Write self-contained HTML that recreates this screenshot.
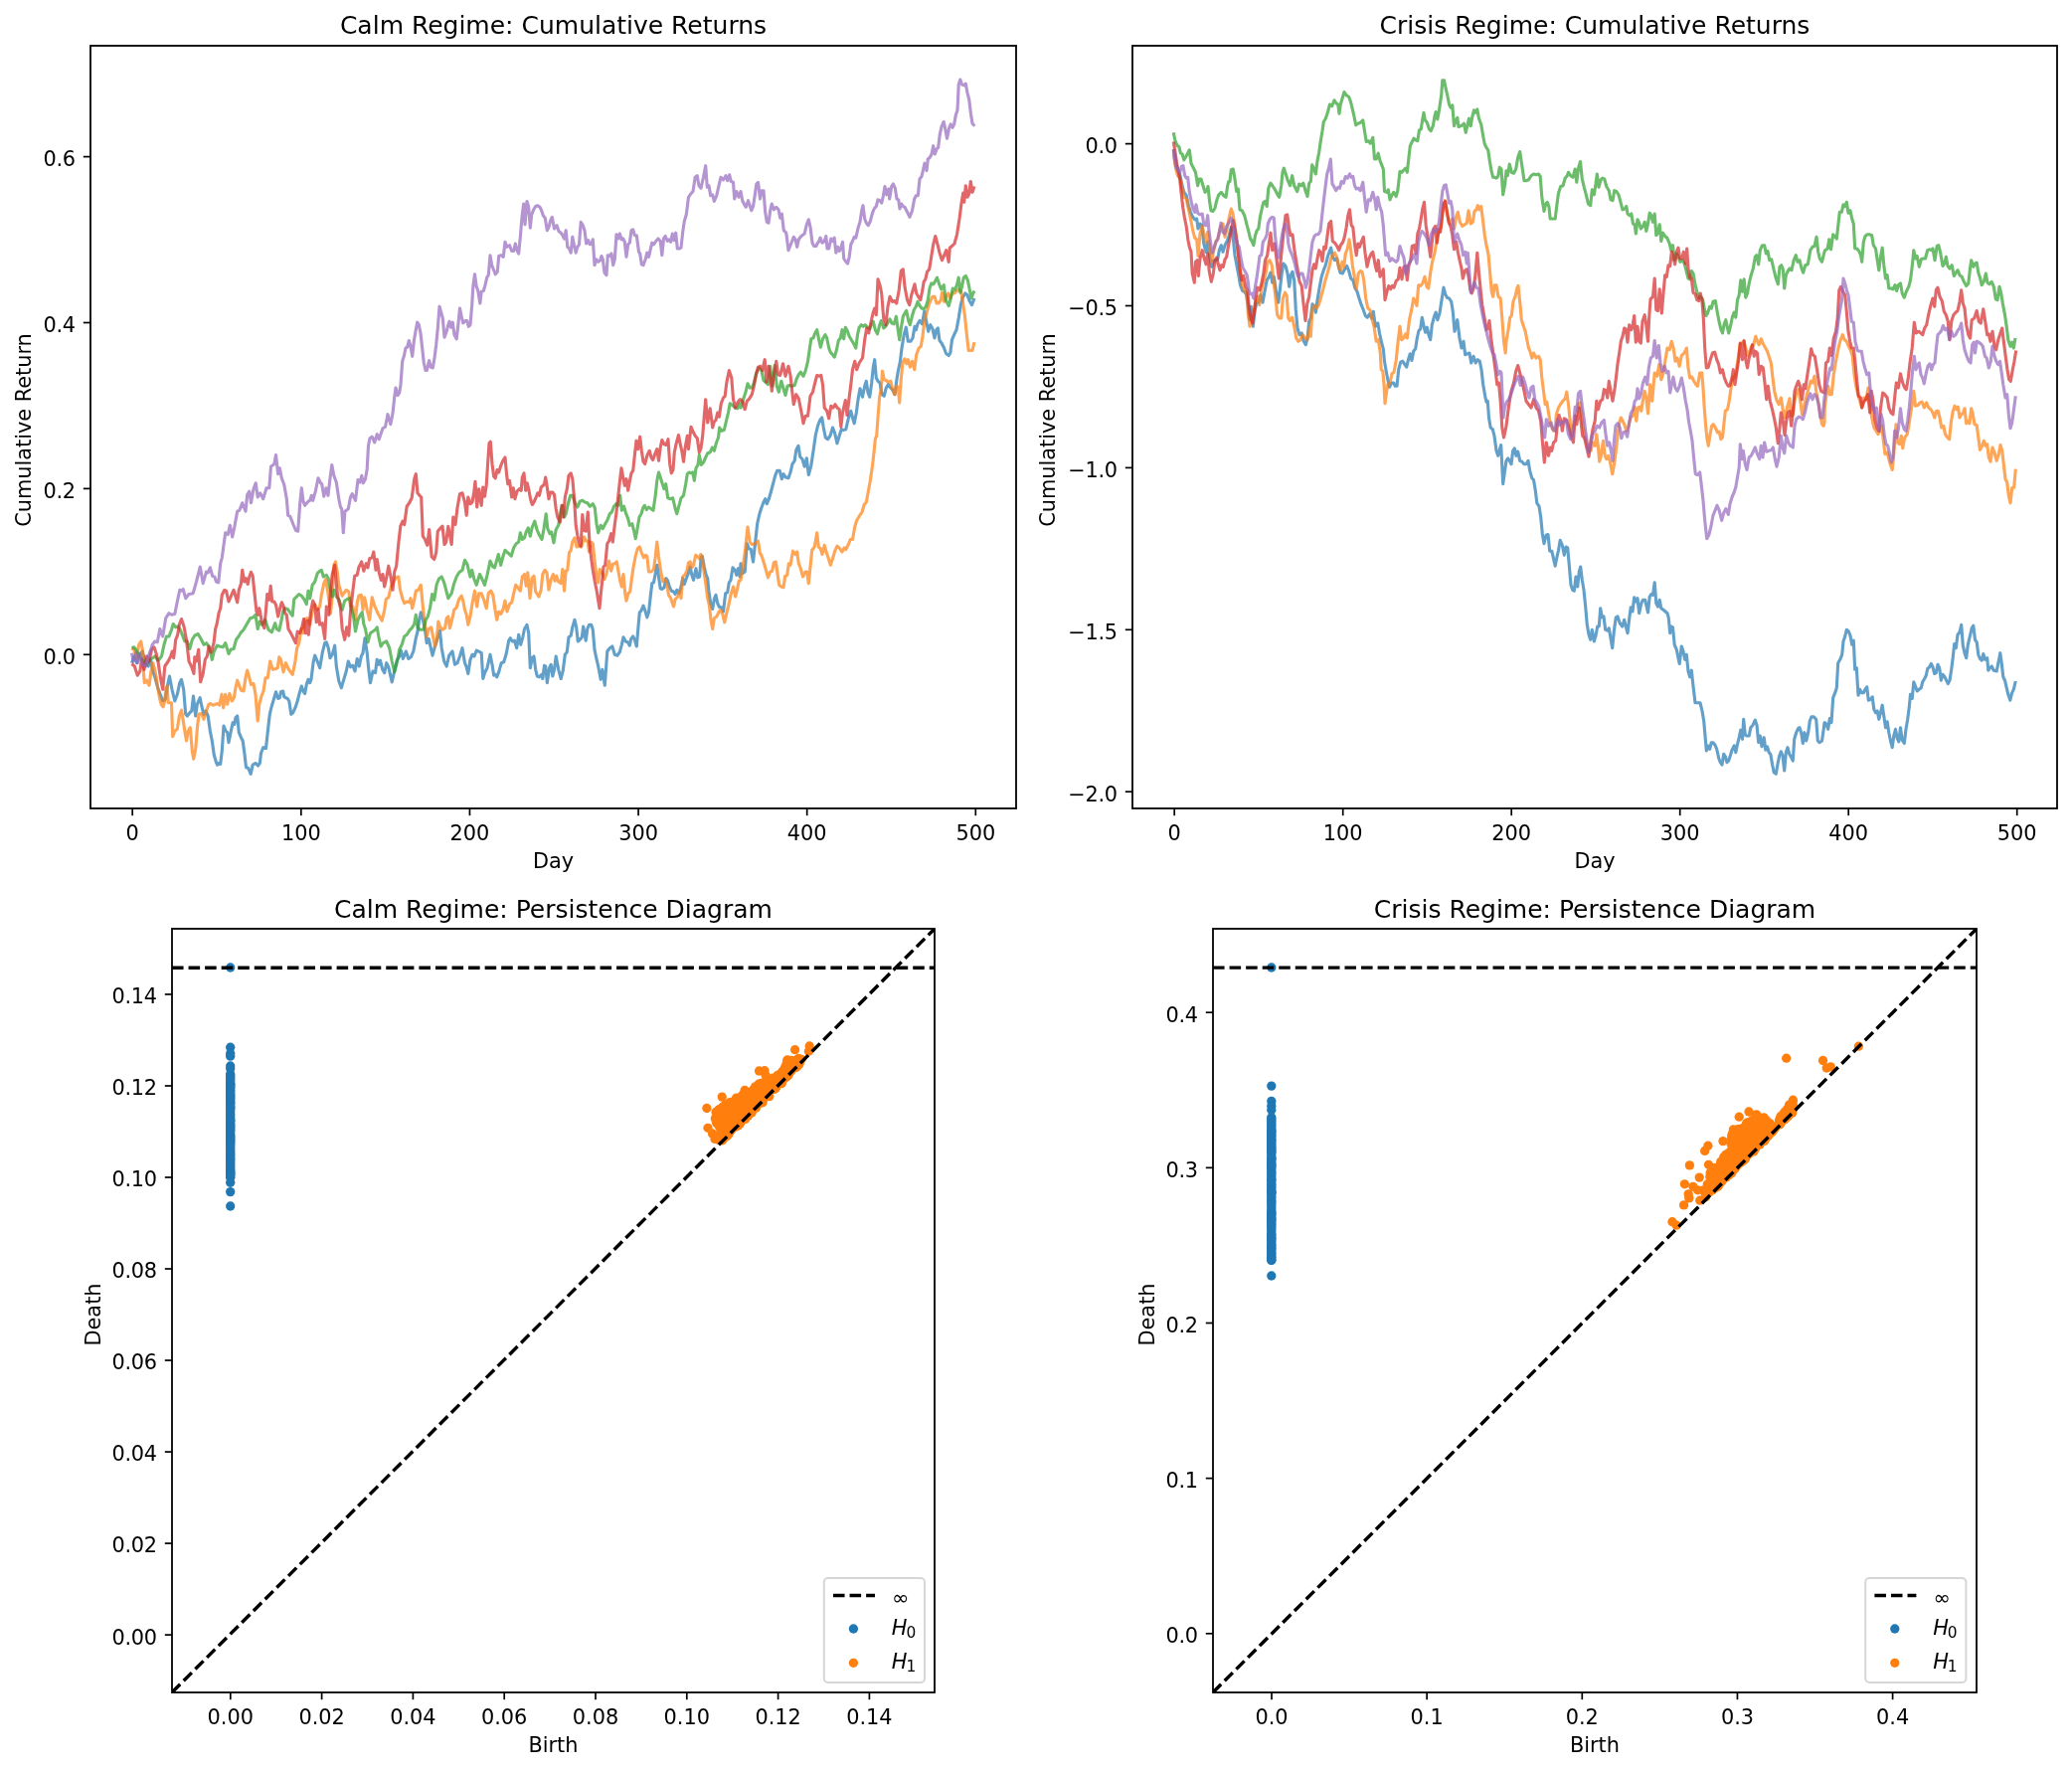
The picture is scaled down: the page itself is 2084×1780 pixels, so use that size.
<!DOCTYPE html>
<html><head><meta charset="utf-8"><title>Regime persistence diagrams</title>
<style>html,body{margin:0;padding:0;background:#fff}svg{display:block;will-change:transform}</style>
</head><body>
<svg width="2084" height="1780" viewBox="0 0 2084 1780" font-family='"DejaVu Sans", "Liberation Sans", sans-serif' fill="#000">
<rect width="2084" height="1780" fill="#fff"/>
<defs>
<clipPath id="c1"><rect x="91" y="46" width="931" height="767"/></clipPath>
<clipPath id="c2"><rect x="1139" y="46" width="930" height="767"/></clipPath>
<clipPath id="c3"><rect x="173" y="934" width="767" height="768"/></clipPath>
<clipPath id="c4"><rect x="1220" y="934" width="768" height="768"/></clipPath>
</defs>
<path d="M132.5 666.7 L135.0 660.0 L137.5 666.7 L140.0 658.3 L143.3 655.0 L146.7 668.3 L149.2 670.0 L151.7 664.2 L154.2 676.7 L155.8 680.8 L158.7 691.7 L161.2 698.3 L163.7 705.0 L166.3 703.3 L168.7 688.3 L170.5 680.0 L173.0 693.3 L175.8 705.0 L178.3 698.3 L180.8 686.7 L182.5 683.3 L184.7 693.3 L186.7 718.3 L188.3 720.0 L190.8 716.7 L192.8 715.0 L194.5 700.0 L196.7 720.0 L198.3 708.3 L201.2 701.7 L202.8 710.0 L205.0 718.3 L207.0 715.0 L209.2 720.0 L211.3 735.0 L213.3 745.0 L215.3 759.2 L217.5 766.7 L218.7 769.2 L220.0 767.5 L221.7 768.3 L223.3 755.0 L225.0 730.0 L227.0 735.0 L228.7 736.7 L230.0 746.7 L232.0 736.7 L234.2 726.7 L235.8 728.3 L237.0 721.7 L238.7 720.0 L240.3 736.7 L242.5 741.7 L244.2 745.0 L246.2 760.0 L247.5 771.7 L249.7 772.5 L252.2 778.3 L254.2 769.2 L257.0 767.5 L259.7 770.0 L261.3 767.5 L262.5 757.5 L264.7 751.7 L267.5 752.5 L269.2 736.7 L271.3 718.3 L273.3 710.0 L275.8 701.7 L277.5 695.8 L279.7 702.5 L281.3 701.7 L282.5 695.8 L284.7 695.0 L285.8 700.8 L289.2 702.5 L290.8 705.0 L292.8 718.3 L294.7 716.7 L297.0 711.7 L299.2 705.0 L301.3 696.7 L303.3 690.0 L305.3 695.8 L306.7 697.5 L308.3 688.3 L310.0 683.3 L311.7 686.7 L313.0 683.3 L315.0 666.7 L316.7 659.2 L319.2 665.0 L321.7 671.7 L324.2 656.7 L326.7 646.7 L328.3 645.8 L330.3 651.7 L332.0 661.7 L334.2 658.3 L336.7 649.2 L338.3 670.0 L340.8 685.0 L343.3 691.7 L345.8 683.3 L348.3 675.0 L350.3 665.0 L352.5 670.8 L354.7 669.2 L357.0 675.0 L359.2 662.5 L361.3 670.0 L363.3 660.0 L365.0 656.7 L367.0 641.7 L369.2 656.7 L370.8 673.3 L372.5 686.7 L375.0 675.0 L377.5 676.7 L379.2 663.3 L380.8 668.3 L382.5 664.2 L384.7 673.3 L386.7 676.7 L388.7 666.7 L390.8 670.8 L394.2 685.8 L396.7 675.0 L399.2 664.2 L401.7 660.0 L403.3 654.2 L405.3 662.5 L408.3 655.0 L410.8 662.5 L413.3 660.8 L415.8 655.0 L418.3 641.7 L420.0 635.0 L421.7 623.3 L423.3 615.8 L425.0 621.7 L427.5 633.3 L429.2 646.7 L431.3 642.5 L433.3 651.7 L435.0 659.2 L437.5 650.0 L440.0 641.7 L442.5 634.2 L444.2 651.7 L446.7 665.0 L449.2 670.0 L451.7 659.2 L455.0 655.0 L457.5 668.3 L460.0 666.7 L462.5 660.0 L465.0 651.7 L467.5 666.7 L469.2 670.8 L470.8 677.5 L473.0 663.3 L475.0 658.3 L477.0 660.0 L479.2 654.2 L481.3 655.0 L484.2 656.7 L485.8 682.5 L487.5 676.7 L490.0 671.7 L493.0 658.3 L495.0 668.3 L496.7 679.2 L498.3 678.3 L499.7 680.8 L501.7 675.8 L504.2 666.7 L506.7 665.8 L509.2 657.5 L511.7 644.2 L513.3 641.7 L515.3 645.0 L517.5 644.2 L519.7 651.7 L521.7 638.3 L523.7 648.3 L525.8 640.8 L527.5 632.5 L530.0 628.3 L531.7 636.7 L533.3 671.7 L535.3 661.7 L537.0 660.0 L538.7 673.3 L540.3 680.0 L542.5 680.8 L544.7 678.3 L545.8 682.5 L547.5 669.2 L548.7 670.0 L550.3 686.7 L552.5 671.7 L554.2 668.3 L555.8 680.0 L557.5 673.3 L559.2 660.0 L561.7 673.3 L564.2 682.5 L566.3 674.2 L568.3 658.3 L570.3 655.8 L572.0 640.8 L574.2 639.2 L575.8 630.8 L578.0 623.3 L579.7 630.8 L581.3 645.0 L583.3 643.3 L585.3 640.8 L586.7 630.0 L589.2 644.2 L590.8 632.5 L592.5 628.3 L594.7 628.3 L596.3 633.3 L598.0 653.3 L599.7 661.7 L601.7 670.0 L604.2 683.3 L605.8 673.3 L608.3 689.2 L610.8 655.0 L613.3 651.7 L615.8 650.0 L618.3 658.3 L620.8 659.2 L623.3 655.8 L625.3 648.3 L627.0 640.8 L629.2 645.0 L631.3 645.8 L633.3 649.2 L634.7 642.5 L636.7 640.0 L638.3 643.3 L640.3 650.0 L641.7 633.3 L643.3 615.8 L645.0 614.2 L647.0 609.2 L648.7 613.3 L650.8 620.8 L652.5 615.8 L654.2 600.0 L655.8 586.7 L657.5 585.8 L659.2 576.7 L660.8 568.3 L662.5 580.0 L664.2 591.7 L665.8 592.5 L668.0 590.8 L670.0 581.7 L671.7 584.2 L673.3 590.0 L675.3 594.2 L677.5 595.0 L679.2 597.5 L680.8 593.3 L683.0 596.7 L685.0 590.0 L686.7 581.7 L688.3 587.5 L690.0 582.5 L692.0 577.5 L694.2 570.0 L695.8 578.3 L697.5 583.3 L700.0 571.7 L701.7 580.8 L703.7 580.0 L705.0 560.8 L706.3 559.2 L708.3 570.0 L710.0 577.5 L711.7 581.7 L713.0 595.0 L714.7 606.7 L716.7 612.5 L718.3 602.5 L720.0 598.3 L721.7 606.7 L723.7 610.8 L725.8 610.8 L727.5 615.0 L729.7 596.7 L731.7 595.8 L733.3 585.8 L735.0 583.3 L737.0 570.8 L739.2 573.3 L740.8 578.3 L742.5 571.7 L744.2 580.0 L745.0 566.7 L746.7 576.7 L749.2 575.0 L751.3 546.7 L753.3 551.7 L755.3 552.5 L757.5 565.0 L759.7 545.0 L761.7 526.7 L763.7 517.5 L765.8 510.8 L768.0 505.0 L769.7 501.7 L771.3 506.7 L773.3 501.7 L775.3 495.0 L777.5 486.7 L779.7 478.3 L781.7 473.3 L784.2 473.3 L786.3 481.7 L788.0 476.7 L790.3 480.0 L793.0 480.8 L795.0 475.0 L797.0 466.7 L799.2 463.3 L800.8 452.5 L803.0 448.3 L804.7 459.2 L807.0 461.7 L809.2 469.2 L811.3 460.8 L813.3 477.5 L815.8 468.3 L818.3 451.7 L820.3 437.5 L822.5 428.3 L824.7 422.5 L826.7 420.0 L828.3 430.0 L830.3 440.0 L832.5 441.7 L835.0 438.3 L837.5 430.0 L839.7 435.8 L842.0 445.8 L844.2 438.3 L846.3 431.7 L848.3 432.5 L850.8 431.7 L853.3 420.8 L855.8 413.3 L857.5 420.0 L859.2 425.8 L861.3 415.0 L863.3 400.0 L865.0 390.8 L867.5 399.2 L869.7 388.3 L871.3 383.3 L873.0 395.0 L874.7 399.2 L876.7 385.0 L878.3 369.2 L879.7 361.7 L881.3 380.0 L883.0 383.3 L885.0 385.0 L887.0 396.7 L889.2 398.3 L891.3 390.0 L893.3 386.7 L895.8 390.0 L898.0 392.5 L900.0 396.7 L901.7 383.3 L903.3 373.3 L905.3 364.2 L907.0 350.0 L909.2 336.7 L911.3 329.2 L913.3 343.3 L915.8 343.3 L918.0 340.0 L920.0 328.3 L921.3 331.7 L923.0 325.8 L925.0 322.5 L927.5 325.8 L929.7 313.3 L931.7 323.3 L933.7 333.3 L935.8 326.7 L938.0 330.8 L940.0 340.0 L941.7 331.7 L943.3 330.0 L945.0 342.5 L947.0 345.0 L949.2 349.2 L951.7 355.8 L954.2 357.5 L955.8 355.0 L957.5 341.7 L960.0 335.8 L962.0 331.7 L964.2 320.0 L966.3 306.7 L968.3 299.2 L970.8 295.0 L973.0 296.7 L975.0 302.5 L977.5 306.7 L980.0 300.0" fill="none" stroke="#1f77b4" stroke-opacity="0.7" stroke-width="3.125" stroke-linejoin="round" stroke-linecap="butt" clip-path="url(#c1)"/>
<path d="M132.5 651.7 L134.7 653.3 L137.5 661.7 L139.7 648.3 L141.7 645.0 L143.3 653.3 L144.2 673.3 L145.3 686.7 L147.5 684.2 L150.0 689.2 L152.0 675.0 L153.7 666.7 L155.3 671.7 L157.0 680.0 L158.7 691.7 L160.8 703.3 L162.5 709.2 L164.2 710.8 L165.3 706.7 L167.0 691.7 L168.0 690.0 L169.2 706.7 L172.5 706.7 L173.7 740.8 L175.8 735.0 L178.3 733.3 L180.3 720.0 L182.5 714.2 L184.2 724.2 L185.8 735.0 L187.5 745.0 L189.2 735.0 L191.3 731.7 L193.3 755.0 L194.7 763.3 L196.7 753.3 L198.3 733.3 L200.0 718.3 L202.5 717.5 L205.0 723.3 L207.5 715.0 L210.0 708.3 L211.7 707.5 L214.2 709.2 L216.7 708.3 L219.2 707.5 L220.8 709.2 L223.0 698.3 L224.7 711.7 L226.7 698.3 L228.7 708.3 L230.8 697.5 L233.3 705.0 L235.3 701.7 L237.0 691.7 L238.7 684.2 L240.8 690.0 L242.5 694.2 L245.0 695.0 L247.0 681.7 L248.7 674.2 L250.8 681.7 L252.5 688.3 L255.0 687.5 L257.0 698.3 L259.2 725.0 L260.8 708.3 L263.0 700.0 L265.0 695.0 L267.0 681.7 L269.2 681.7 L271.7 665.0 L274.2 673.3 L277.5 672.5 L279.2 671.7 L280.8 660.8 L282.5 663.3 L285.0 675.8 L287.5 666.7 L290.0 672.5 L294.2 678.3 L296.7 666.7 L298.7 651.7 L300.8 646.7 L302.8 632.5 L305.0 636.7 L306.7 622.5 L309.2 621.7 L311.7 628.3 L314.2 615.0 L316.7 608.3 L319.2 613.3 L321.7 610.0 L323.3 598.3 L325.8 586.7 L327.5 582.5 L330.0 596.7 L332.5 616.7 L334.2 600.0 L335.8 568.3 L337.5 565.0 L339.2 575.0 L340.8 588.3 L344.2 599.2 L345.8 596.7 L348.3 593.3 L350.8 595.0 L352.5 609.2 L355.0 610.0 L357.5 623.3 L359.2 606.7 L360.8 599.2 L363.3 598.3 L365.0 613.3 L366.7 600.8 L369.2 613.3 L371.7 623.3 L374.2 600.8 L376.7 609.2 L380.0 616.7 L384.2 624.2 L386.7 613.3 L388.3 602.5 L390.8 600.8 L393.3 590.0 L395.8 585.0 L398.3 580.8 L400.8 580.0 L402.5 593.3 L405.0 602.5 L406.7 606.7 L409.2 605.0 L411.7 605.8 L413.0 601.7 L414.7 611.7 L416.7 603.3 L418.3 594.2 L420.8 593.3 L423.3 588.3 L425.0 606.7 L426.7 623.3 L429.2 640.0 L431.3 632.5 L433.7 630.8 L435.8 641.7 L437.5 650.0 L439.2 645.0 L440.8 625.0 L442.5 630.0 L445.0 633.3 L447.5 631.7 L449.2 621.7 L450.8 620.0 L452.5 631.7 L455.0 621.7 L456.7 613.3 L459.2 610.8 L461.7 602.5 L464.2 599.2 L465.8 604.2 L467.5 613.3 L469.2 618.3 L470.8 628.3 L473.0 620.0 L475.0 606.7 L477.5 594.2 L479.7 610.0 L481.7 596.7 L484.2 596.7 L486.7 603.3 L489.2 611.7 L491.3 596.7 L493.7 594.2 L495.8 598.3 L498.0 613.3 L499.7 623.3 L501.7 615.0 L503.7 617.5 L505.8 613.3 L508.0 604.2 L510.0 615.0 L512.5 607.5 L514.7 605.8 L516.7 596.7 L518.7 588.3 L520.8 590.8 L523.3 594.2 L525.3 580.0 L527.5 577.5 L529.2 589.2 L530.8 575.8 L533.0 601.7 L535.0 581.7 L537.0 579.2 L538.7 595.0 L540.3 597.5 L542.0 600.0 L544.2 593.3 L545.8 577.5 L548.0 573.3 L550.0 575.8 L552.0 593.3 L554.2 582.5 L556.3 577.5 L558.0 584.2 L559.7 579.2 L561.7 585.0 L564.2 586.7 L565.8 572.5 L567.5 594.2 L569.2 574.2 L570.8 573.3 L572.5 555.8 L574.2 553.3 L575.8 545.0 L578.0 540.8 L580.0 550.0 L582.5 549.2 L584.7 550.0 L587.5 540.0 L589.7 544.2 L591.3 544.2 L592.5 555.0 L594.2 545.0 L596.3 546.7 L598.0 563.3 L599.7 576.7 L601.7 585.8 L603.3 572.5 L605.8 576.7 L608.0 582.5 L610.0 576.7 L612.5 564.2 L614.7 574.2 L616.3 567.5 L618.3 566.7 L620.3 565.0 L621.7 573.3 L623.7 584.2 L625.3 590.0 L627.0 577.5 L628.7 596.7 L630.0 604.2 L632.0 596.7 L633.7 595.0 L635.3 582.5 L637.0 570.8 L639.2 559.2 L641.3 551.7 L643.3 550.0 L645.3 555.8 L647.5 560.8 L649.2 558.3 L650.8 559.2 L652.5 575.0 L655.0 575.0 L657.5 572.5 L659.2 560.0 L660.8 545.0 L662.5 560.0 L664.7 575.0 L666.7 585.0 L668.3 582.5 L670.3 585.0 L672.5 598.3 L674.7 601.7 L677.5 610.0 L679.2 602.5 L681.7 600.0 L683.7 595.0 L685.0 601.7 L686.7 580.0 L689.2 577.5 L690.8 574.2 L692.5 565.8 L694.2 565.0 L695.8 570.8 L697.5 568.3 L699.7 558.3 L701.7 560.0 L703.3 561.7 L704.7 557.5 L706.7 563.3 L708.3 576.7 L710.0 588.3 L711.7 601.7 L713.3 608.3 L715.0 623.3 L716.7 632.5 L718.3 621.7 L720.8 620.0 L723.3 615.0 L725.0 613.3 L727.0 618.3 L728.7 625.8 L730.8 616.7 L732.5 610.0 L735.0 598.3 L737.5 590.0 L739.7 600.0 L741.7 591.7 L743.3 584.2 L745.0 583.3 L747.5 568.3 L749.7 551.7 L752.0 530.0 L754.2 545.0 L756.3 547.5 L759.2 546.7 L762.5 544.2 L764.2 555.8 L765.8 558.3 L768.0 565.0 L770.0 571.7 L772.5 580.8 L774.7 575.0 L776.7 574.2 L778.3 565.8 L780.3 565.0 L782.0 576.7 L783.7 588.3 L785.8 590.0 L788.0 590.8 L789.7 579.2 L791.7 578.3 L793.3 566.7 L795.0 568.3 L797.5 554.2 L800.0 557.5 L801.7 555.0 L803.3 566.7 L805.3 571.7 L807.5 580.0 L810.0 575.0 L811.7 575.0 L813.3 586.7 L815.0 570.0 L816.7 553.3 L819.2 550.0 L821.7 535.8 L823.3 550.0 L825.3 551.7 L827.0 557.5 L829.2 548.3 L830.8 554.2 L833.0 560.8 L835.3 568.3 L837.5 561.7 L839.7 554.2 L842.0 549.2 L844.7 551.7 L847.0 555.0 L849.2 550.8 L850.8 552.5 L853.3 547.5 L855.3 542.5 L857.5 542.5 L859.7 530.0 L861.7 523.3 L864.2 519.2 L867.0 515.0 L869.2 507.5 L871.3 505.0 L873.3 494.2 L875.3 483.3 L877.5 468.3 L879.2 453.3 L880.3 441.7 L881.7 438.3 L883.0 420.0 L884.7 398.3 L886.3 391.7 L887.5 373.3 L889.2 381.7 L891.3 382.5 L893.3 384.2 L895.8 383.3 L897.5 390.8 L899.7 396.7 L901.7 388.3 L903.3 389.2 L904.7 405.0 L906.3 380.8 L908.0 364.2 L910.0 360.8 L911.7 365.8 L913.3 361.7 L915.3 369.2 L917.5 363.3 L919.7 371.7 L921.7 356.7 L924.2 350.0 L926.3 348.3 L928.0 338.3 L929.7 323.3 L931.7 315.8 L933.7 308.3 L935.8 302.5 L938.0 298.3 L940.0 298.3 L942.0 305.0 L944.2 305.0 L946.3 301.7 L947.5 294.2 L949.7 303.3 L951.7 298.3 L953.7 295.0 L955.8 300.0 L958.0 294.2 L960.0 295.0 L962.5 292.5 L964.7 290.8 L966.7 293.3 L968.3 303.3 L970.3 316.7 L972.0 333.3 L974.2 352.5 L976.3 352.5 L978.0 352.5 L980.0 344.2" fill="none" stroke="#ff7f0e" stroke-opacity="0.7" stroke-width="3.125" stroke-linejoin="round" stroke-linecap="butt" clip-path="url(#c1)"/>
<path d="M132.5 651.7 L135.0 650.8 L136.7 653.3 L139.2 658.3 L141.7 661.7 L145.0 666.7 L147.5 668.3 L150.8 663.3 L153.3 661.7 L155.8 660.0 L159.2 664.2 L162.5 660.0 L165.0 648.3 L167.5 640.0 L170.0 640.0 L172.5 633.3 L174.2 627.5 L176.7 630.8 L179.2 630.0 L181.3 633.3 L183.3 638.3 L185.8 645.0 L188.3 645.0 L190.8 652.5 L193.3 643.3 L195.8 639.2 L199.2 637.5 L201.7 641.7 L205.0 648.3 L207.5 646.7 L210.0 650.0 L211.7 656.7 L213.3 663.3 L215.3 655.0 L218.3 649.2 L220.8 650.0 L224.2 650.8 L226.7 646.7 L230.0 657.5 L232.0 653.3 L235.0 652.5 L237.5 643.3 L240.0 640.0 L242.5 635.8 L245.0 633.3 L248.3 627.5 L251.7 621.7 L255.0 620.8 L257.0 618.3 L259.2 632.5 L261.3 625.0 L263.7 628.3 L266.7 623.3 L270.0 633.3 L273.3 635.8 L276.7 626.7 L278.3 632.5 L280.8 634.2 L283.0 624.2 L284.7 615.0 L286.7 611.7 L289.2 612.5 L291.7 615.8 L294.2 619.2 L295.8 602.5 L297.5 600.8 L300.8 597.5 L303.3 599.2 L305.8 602.5 L308.3 607.5 L310.0 594.2 L311.7 601.7 L314.2 588.3 L316.7 585.0 L319.2 576.7 L321.7 574.2 L323.3 573.3 L325.3 580.0 L328.3 578.3 L330.3 581.7 L331.7 590.0 L334.2 600.0 L336.2 593.3 L338.3 600.0 L340.8 602.5 L344.2 613.3 L346.7 604.2 L349.2 602.5 L351.7 601.7 L353.3 611.7 L355.3 618.3 L357.5 635.0 L360.0 623.3 L362.5 618.3 L364.2 615.8 L365.8 627.5 L367.5 632.5 L370.0 645.8 L372.5 636.7 L375.0 635.0 L377.5 633.3 L379.2 630.8 L380.8 640.0 L383.0 650.0 L385.3 646.7 L388.7 645.0 L391.7 651.7 L394.2 665.0 L396.7 675.8 L399.2 666.7 L401.7 653.3 L404.2 648.3 L406.7 640.0 L409.2 638.3 L411.7 634.2 L414.2 631.7 L416.7 627.5 L418.3 618.3 L420.0 630.8 L422.5 633.3 L425.8 633.3 L428.3 623.3 L430.3 620.0 L432.5 611.7 L434.7 597.5 L436.7 603.3 L439.2 587.5 L441.7 581.7 L444.2 580.0 L446.7 585.8 L450.8 601.7 L454.2 596.7 L456.7 586.7 L459.2 580.0 L461.7 575.8 L465.0 573.3 L467.5 563.3 L470.0 567.5 L471.7 575.0 L473.0 580.0 L474.7 573.3 L476.7 581.7 L479.2 588.3 L482.5 577.5 L485.0 582.5 L487.5 588.3 L490.0 578.3 L493.0 564.2 L495.8 570.0 L497.5 570.8 L499.7 563.3 L501.3 557.5 L503.7 568.3 L505.8 560.0 L508.0 553.3 L510.8 555.8 L514.2 559.2 L516.7 550.8 L519.2 546.7 L521.7 545.0 L523.3 535.8 L525.3 542.5 L527.5 540.8 L529.2 535.0 L531.3 530.8 L533.3 539.2 L535.3 530.0 L537.8 524.2 L540.0 532.5 L542.5 538.3 L545.0 542.5 L547.0 531.7 L549.2 516.7 L550.8 531.7 L553.0 536.7 L554.7 535.0 L557.0 545.8 L559.2 532.5 L561.7 528.3 L564.2 513.3 L565.8 508.3 L567.5 520.0 L569.2 516.7 L571.3 506.7 L573.7 498.3 L575.8 498.3 L578.3 505.8 L580.8 510.0 L583.3 504.2 L585.8 503.3 L588.3 505.0 L590.8 505.8 L593.3 509.2 L596.3 506.7 L598.3 510.8 L600.0 526.7 L601.7 535.8 L604.2 528.3 L606.3 531.7 L608.3 527.5 L610.8 523.3 L613.3 516.7 L615.3 515.0 L617.5 509.2 L619.7 506.7 L621.7 508.3 L623.7 498.3 L625.3 513.3 L627.5 509.2 L629.7 516.7 L631.7 521.7 L633.3 528.3 L635.8 526.7 L637.5 533.3 L639.2 541.7 L640.8 533.3 L643.0 520.0 L645.0 516.7 L646.7 510.8 L648.3 508.3 L650.3 512.5 L652.5 510.0 L655.0 511.7 L657.0 513.3 L659.2 498.3 L660.8 483.3 L662.5 475.0 L664.2 480.0 L666.3 486.7 L668.0 491.7 L669.7 486.7 L671.7 500.8 L674.2 501.7 L676.7 500.8 L679.2 511.7 L680.8 516.7 L683.0 508.3 L685.0 500.8 L687.5 498.3 L689.7 486.7 L691.3 476.7 L693.0 475.0 L695.0 475.8 L696.7 475.0 L698.3 483.3 L700.0 470.8 L702.0 467.5 L703.3 457.5 L705.3 467.5 L707.5 465.0 L709.7 460.0 L711.7 455.8 L714.2 455.0 L716.3 450.0 L718.3 453.3 L720.3 445.8 L722.5 440.0 L723.7 430.0 L725.8 433.3 L728.3 432.5 L730.3 424.2 L732.5 415.0 L734.2 405.8 L736.7 407.5 L739.2 410.0 L741.7 410.8 L744.2 405.8 L745.0 410.0 L747.5 401.7 L750.0 394.2 L752.0 385.8 L754.2 390.0 L756.3 390.0 L758.3 385.0 L760.8 375.0 L763.3 370.0 L765.8 372.5 L768.0 382.5 L770.0 384.2 L772.5 386.7 L774.7 368.3 L776.7 388.3 L779.2 367.5 L781.3 388.3 L783.3 394.2 L785.8 383.3 L788.0 390.8 L790.0 397.5 L792.0 388.3 L794.2 387.5 L796.7 388.3 L799.2 387.5 L801.3 380.8 L803.3 376.7 L805.3 374.2 L808.0 378.3 L810.3 372.5 L812.5 363.3 L814.2 351.7 L815.8 340.8 L818.0 340.0 L819.7 335.0 L821.7 331.7 L823.7 341.7 L825.3 349.2 L827.5 340.8 L830.0 336.7 L831.7 340.0 L833.7 350.0 L835.3 354.2 L837.5 356.7 L839.2 359.2 L841.3 352.5 L843.3 342.5 L845.3 340.0 L847.0 331.7 L848.7 340.8 L850.3 329.2 L852.5 333.3 L854.2 338.3 L856.3 341.7 L858.7 345.8 L860.8 350.0 L862.5 336.7 L864.2 329.2 L866.3 326.7 L868.3 328.3 L870.3 326.7 L872.5 329.2 L874.7 330.8 L876.7 325.8 L878.3 323.3 L880.3 331.7 L882.5 335.8 L884.7 326.7 L886.3 322.5 L888.7 330.0 L890.8 328.3 L893.0 324.2 L895.0 320.8 L897.0 325.0 L899.2 325.8 L901.3 318.3 L903.0 330.0 L904.7 341.7 L906.3 330.0 L908.3 318.3 L910.0 315.0 L911.7 312.5 L913.7 322.5 L915.3 326.7 L917.5 317.5 L919.2 311.7 L921.3 308.3 L923.0 303.3 L925.0 307.5 L927.0 310.0 L929.2 310.8 L931.3 308.3 L933.3 301.7 L935.0 290.0 L936.7 285.0 L938.7 285.8 L940.3 283.3 L942.5 279.2 L944.7 285.8 L946.7 290.8 L949.2 286.7 L951.3 301.7 L954.2 307.5 L956.3 300.0 L958.3 290.0 L960.3 291.7 L962.5 286.7 L964.2 279.2 L965.8 294.2 L967.5 288.3 L969.2 279.2 L971.3 277.5 L973.3 281.7 L975.0 290.0 L977.0 300.0 L978.7 295.0 L980.0 292.5" fill="none" stroke="#2ca02c" stroke-opacity="0.7" stroke-width="3.125" stroke-linejoin="round" stroke-linecap="butt" clip-path="url(#c1)"/>
<path d="M132.5 667.5 L135.3 670.0 L138.3 679.2 L140.8 675.0 L142.5 663.3 L145.0 673.3 L147.5 660.0 L150.0 665.0 L152.5 653.3 L155.0 650.8 L157.0 656.7 L159.2 666.7 L161.7 683.3 L163.7 693.3 L165.8 670.0 L169.2 665.0 L171.7 660.0 L173.3 655.0 L174.7 661.7 L176.7 643.3 L178.7 638.3 L180.3 628.3 L182.5 622.5 L185.0 630.0 L187.5 643.3 L190.0 665.0 L192.5 670.0 L195.0 677.5 L195.8 660.8 L197.5 665.0 L199.7 653.3 L201.7 685.8 L204.2 677.5 L206.3 663.3 L208.3 660.0 L210.0 650.0 L212.5 655.8 L215.0 646.7 L216.7 632.5 L218.3 626.7 L220.0 616.7 L221.7 611.7 L223.3 598.3 L225.8 593.3 L227.5 594.2 L230.0 605.0 L232.5 599.2 L235.0 593.3 L238.7 605.8 L240.3 593.3 L242.5 586.7 L243.7 573.3 L245.8 585.0 L247.5 581.7 L249.2 587.5 L250.8 580.0 L252.5 575.3 L254.2 579.2 L255.8 595.0 L258.0 615.0 L259.7 618.3 L260.8 611.7 L263.3 625.0 L265.8 631.7 L267.5 613.3 L268.8 597.5 L270.8 603.3 L272.2 589.2 L273.7 605.0 L275.8 605.0 L277.5 608.3 L279.7 620.0 L281.7 611.7 L283.3 605.8 L285.0 609.2 L286.7 616.7 L288.3 618.3 L290.0 632.5 L292.5 636.7 L295.0 641.7 L297.5 646.7 L299.2 635.0 L301.7 636.7 L303.3 632.5 L305.5 622.5 L307.5 636.7 L309.2 624.2 L310.3 638.3 L312.5 615.0 L314.7 604.2 L316.7 608.3 L318.3 625.8 L320.0 612.5 L321.7 628.3 L324.2 626.7 L326.7 642.5 L328.3 610.0 L330.8 618.3 L332.5 595.0 L334.2 577.5 L336.7 568.3 L338.3 588.3 L340.0 601.7 L342.5 611.7 L344.2 632.5 L346.7 643.3 L348.7 630.8 L350.8 639.2 L352.5 615.0 L355.0 593.3 L356.7 579.2 L359.2 578.3 L360.8 570.8 L363.7 565.0 L365.8 574.2 L368.3 566.7 L370.0 570.8 L371.7 561.7 L374.2 560.8 L375.8 555.0 L378.0 573.3 L379.2 562.5 L381.3 575.8 L383.3 583.3 L385.0 577.5 L386.7 590.0 L389.2 578.3 L390.8 569.2 L393.3 581.7 L395.0 593.3 L396.7 575.0 L398.7 569.2 L400.8 546.7 L402.8 529.2 L405.0 524.2 L406.7 527.5 L409.2 509.2 L411.7 505.8 L414.2 500.8 L416.7 481.7 L418.3 476.7 L420.0 495.8 L422.0 498.3 L423.7 500.0 L425.3 539.2 L427.5 542.5 L429.7 548.3 L431.7 532.5 L434.2 560.0 L436.7 562.5 L438.7 555.8 L440.3 534.2 L442.5 531.7 L445.0 529.2 L447.0 547.5 L448.7 545.0 L450.8 529.2 L452.5 538.3 L454.2 547.5 L455.8 520.0 L458.0 527.5 L460.0 510.8 L462.5 496.7 L465.0 495.8 L467.5 505.0 L469.2 518.3 L470.8 500.0 L473.0 506.7 L475.0 505.0 L476.7 495.0 L478.0 484.2 L479.7 510.0 L481.7 491.7 L483.0 501.7 L484.2 508.3 L485.8 490.0 L487.5 499.2 L489.2 488.3 L490.8 463.3 L492.0 445.8 L493.3 444.2 L495.0 466.7 L496.7 479.2 L498.3 480.8 L500.0 472.5 L501.7 475.0 L503.7 468.3 L505.8 463.3 L508.0 460.0 L509.7 478.3 L510.8 486.7 L512.5 483.3 L514.7 500.0 L516.3 490.8 L518.0 501.7 L520.0 494.2 L522.5 491.7 L524.2 493.3 L525.3 480.0 L527.0 475.8 L528.7 493.3 L530.3 485.8 L532.0 493.3 L533.7 502.5 L535.3 507.5 L537.0 505.0 L539.2 500.0 L540.8 495.8 L542.5 498.3 L544.2 490.0 L546.3 488.3 L547.5 486.7 L548.7 480.0 L550.3 490.0 L552.0 501.7 L553.7 495.0 L555.8 495.0 L557.5 497.5 L559.2 511.7 L560.8 520.0 L563.3 525.0 L565.0 508.3 L566.7 520.0 L568.3 500.0 L570.3 491.7 L572.0 478.3 L574.2 475.8 L575.8 481.7 L577.5 500.0 L579.2 528.3 L580.8 538.3 L582.5 546.7 L584.2 549.2 L585.8 517.5 L587.5 533.3 L589.2 534.2 L591.3 515.0 L593.0 546.7 L594.7 561.7 L596.3 573.3 L598.3 585.0 L600.0 593.3 L603.0 611.7 L604.2 598.3 L605.8 583.3 L607.0 570.0 L608.7 568.3 L610.8 546.7 L612.5 544.2 L614.7 536.7 L616.3 545.0 L618.0 530.0 L620.0 515.0 L621.7 500.0 L623.3 485.0 L625.0 470.8 L626.7 480.0 L628.3 488.3 L630.0 481.7 L631.7 493.3 L633.3 484.2 L635.0 475.8 L636.7 473.3 L638.3 458.3 L640.0 443.3 L641.7 451.7 L643.7 439.2 L645.3 453.3 L647.0 464.2 L648.7 466.7 L650.8 458.3 L653.3 453.3 L655.0 460.0 L656.7 462.5 L658.7 456.7 L660.8 451.7 L662.5 463.3 L664.2 450.0 L665.8 442.5 L668.0 446.7 L670.0 447.5 L672.0 441.7 L673.7 466.7 L675.3 475.8 L677.0 472.5 L678.3 455.0 L680.0 446.7 L682.5 437.5 L684.2 446.7 L685.8 453.3 L687.5 464.2 L689.2 450.0 L691.3 438.3 L692.5 451.7 L695.0 429.2 L697.5 435.0 L699.2 438.3 L701.3 440.8 L703.3 455.0 L705.0 450.8 L706.7 438.3 L708.3 418.3 L709.7 401.7 L711.7 425.0 L714.2 410.8 L716.7 430.0 L718.3 424.2 L720.0 422.5 L721.7 415.0 L723.3 419.2 L725.3 405.8 L727.5 400.0 L729.2 398.3 L730.8 385.0 L733.3 372.5 L735.8 380.0 L737.5 401.7 L739.7 410.0 L741.7 405.0 L744.2 401.7 L745.0 401.7 L747.0 404.2 L749.2 411.7 L751.3 403.3 L753.7 400.8 L756.3 396.7 L758.3 388.3 L760.3 377.5 L762.5 369.2 L764.7 368.3 L766.7 372.5 L769.2 361.7 L770.8 384.2 L773.0 368.3 L774.7 378.3 L776.3 393.3 L778.3 377.5 L780.8 363.3 L782.5 376.7 L784.7 377.5 L787.5 365.8 L790.0 378.3 L793.0 368.3 L795.0 377.5 L796.7 393.3 L798.3 406.7 L800.8 396.7 L803.3 400.8 L805.8 413.3 L808.0 425.8 L810.0 418.3 L812.5 418.3 L815.0 398.3 L817.5 394.2 L819.7 385.0 L821.7 377.5 L824.2 378.3 L825.8 377.5 L827.5 386.7 L829.2 410.0 L831.7 413.3 L833.7 420.8 L835.8 408.3 L838.0 410.0 L840.0 406.7 L842.0 410.0 L844.2 411.7 L845.8 429.2 L847.5 415.0 L849.2 407.5 L850.3 402.5 L852.0 417.5 L853.7 403.3 L855.8 386.7 L857.5 371.7 L859.7 363.3 L861.7 371.7 L864.2 365.0 L867.5 360.0 L869.7 341.7 L871.7 330.0 L873.7 335.0 L875.8 325.0 L878.0 315.0 L879.7 310.0 L881.3 316.7 L883.0 280.8 L885.0 286.7 L886.7 295.0 L888.7 320.0 L890.8 326.7 L893.0 308.3 L895.0 298.3 L897.5 303.3 L899.7 302.5 L901.7 305.0 L904.2 291.7 L906.3 272.5 L908.3 270.8 L910.0 288.3 L912.5 301.7 L914.7 306.7 L916.7 296.7 L918.7 290.0 L920.0 285.8 L921.7 295.0 L924.2 299.2 L925.8 301.7 L927.5 293.3 L929.2 283.3 L930.8 280.8 L932.5 273.3 L934.7 270.8 L936.7 258.3 L938.7 245.8 L940.8 237.5 L943.0 245.8 L945.0 254.2 L947.5 261.7 L949.7 256.7 L951.7 251.7 L954.2 263.3 L955.3 249.2 L957.5 247.5 L960.0 245.0 L962.5 235.8 L965.0 220.0 L967.0 204.2 L968.7 194.2 L969.7 203.3 L971.3 186.7 L973.0 198.3 L974.7 195.0 L976.3 182.5 L978.0 193.3 L980.0 187.5" fill="none" stroke="#d62728" stroke-opacity="0.7" stroke-width="3.125" stroke-linejoin="round" stroke-linecap="butt" clip-path="url(#c1)"/>
<path d="M132.5 656.7 L134.2 665.0 L136.7 656.7 L138.3 666.7 L140.8 658.3 L143.3 668.3 L146.7 670.0 L149.2 660.0 L151.7 653.3 L153.3 648.3 L155.8 645.0 L158.3 645.8 L160.8 632.5 L163.7 640.0 L166.7 621.7 L170.0 616.7 L172.5 618.3 L175.8 617.5 L178.3 605.0 L180.8 593.3 L182.5 594.2 L184.2 592.5 L186.7 601.7 L190.0 597.5 L194.2 596.7 L197.5 585.0 L201.3 570.0 L204.2 586.7 L207.5 575.0 L209.2 575.8 L211.3 570.8 L213.7 579.2 L215.8 580.0 L217.5 585.0 L219.7 585.8 L221.7 566.7 L223.3 560.8 L226.7 535.8 L229.2 537.5 L231.3 528.3 L233.7 540.0 L235.8 530.0 L238.7 514.2 L240.8 513.3 L243.7 505.8 L247.0 514.2 L248.7 497.5 L250.8 494.2 L252.5 505.8 L255.0 491.7 L257.2 485.8 L259.2 500.0 L261.7 495.8 L264.7 501.7 L268.0 490.8 L270.8 490.8 L272.5 469.2 L275.8 466.7 L277.5 457.5 L279.7 476.7 L281.3 470.8 L283.3 480.8 L285.8 487.5 L288.3 501.7 L289.7 518.3 L291.7 519.2 L295.0 527.5 L297.5 533.3 L299.7 534.2 L301.7 506.7 L303.3 490.8 L305.0 504.2 L306.7 508.3 L310.0 504.2 L311.7 503.3 L313.3 498.3 L314.7 503.3 L317.5 493.3 L320.0 480.8 L322.5 485.8 L323.7 486.7 L325.8 499.2 L328.0 490.8 L330.0 498.3 L331.7 483.3 L333.8 467.5 L335.8 478.3 L338.3 485.0 L340.8 501.7 L342.5 510.0 L343.7 511.7 L345.3 535.8 L347.0 514.2 L350.3 511.7 L352.5 500.0 L354.2 496.7 L357.5 503.3 L360.0 482.5 L362.0 485.0 L363.8 478.3 L365.3 485.8 L367.5 481.7 L369.2 471.7 L370.5 448.3 L372.0 440.8 L374.2 439.2 L376.7 445.0 L379.2 436.7 L381.2 441.7 L385.0 430.8 L387.5 429.2 L390.0 416.7 L392.8 426.7 L395.0 415.8 L396.7 400.0 L398.0 390.0 L400.0 397.5 L401.7 395.0 L403.0 386.7 L404.7 363.3 L406.3 358.3 L408.0 350.0 L409.7 349.2 L411.3 342.5 L413.0 348.3 L414.7 358.3 L416.3 343.3 L418.0 333.3 L419.7 324.2 L421.3 326.7 L423.0 335.0 L424.7 350.0 L426.3 365.0 L428.0 372.5 L429.2 372.5 L431.7 362.5 L433.3 369.2 L435.3 370.0 L437.0 360.0 L438.7 346.7 L440.3 330.0 L442.0 308.3 L443.7 314.2 L445.3 320.0 L447.0 339.2 L449.2 333.3 L450.8 326.7 L452.0 323.3 L453.7 329.2 L455.3 324.2 L457.0 336.7 L459.2 340.8 L460.8 326.7 L462.5 310.0 L464.2 318.3 L465.8 325.0 L468.0 322.5 L469.7 322.5 L471.3 328.3 L473.0 326.7 L474.7 306.7 L475.8 288.3 L477.5 275.8 L479.2 288.3 L480.8 292.5 L482.8 305.0 L484.2 293.3 L486.3 292.5 L488.0 286.7 L489.7 279.2 L491.3 276.7 L493.0 256.7 L494.7 266.7 L496.3 270.8 L498.3 275.8 L500.3 273.3 L501.7 257.5 L503.7 256.7 L506.3 258.3 L508.0 243.3 L510.0 248.3 L512.5 246.7 L514.7 252.5 L516.7 252.5 L518.3 245.0 L520.0 251.7 L521.7 255.0 L523.3 238.3 L525.0 218.3 L526.7 205.0 L528.0 225.8 L530.0 202.5 L531.7 208.3 L533.3 229.2 L534.7 215.8 L536.7 210.8 L538.7 207.5 L540.8 206.7 L543.0 208.3 L544.7 211.7 L546.3 216.7 L548.3 219.2 L550.3 231.7 L552.0 228.3 L553.7 221.7 L555.3 218.3 L557.5 230.0 L560.0 226.7 L562.0 232.5 L564.2 234.2 L565.8 236.7 L567.5 240.0 L569.2 231.7 L570.8 248.3 L572.5 250.0 L574.2 254.2 L575.8 238.3 L577.5 246.7 L579.2 254.2 L580.8 248.3 L582.5 245.8 L584.2 223.3 L586.3 226.7 L588.0 231.7 L589.7 245.0 L591.7 241.7 L593.3 245.8 L595.0 245.0 L596.3 240.8 L598.0 266.7 L599.7 260.8 L601.7 263.3 L603.7 261.7 L605.0 257.5 L606.3 260.8 L608.0 274.2 L610.0 276.7 L611.3 256.7 L613.3 257.5 L615.0 255.0 L616.7 266.7 L618.3 260.8 L620.0 235.8 L621.7 240.0 L623.3 235.0 L625.0 240.8 L626.7 240.0 L628.3 243.3 L630.0 258.3 L631.7 245.8 L633.3 244.2 L635.0 231.7 L636.7 230.8 L638.3 236.7 L640.3 236.7 L642.5 253.3 L643.7 255.0 L645.3 265.8 L647.0 266.7 L649.2 260.8 L650.8 254.2 L652.5 258.3 L654.2 250.8 L655.8 244.2 L657.5 245.8 L659.7 242.5 L662.0 240.0 L664.2 242.5 L665.8 256.7 L667.5 240.0 L669.2 237.5 L671.3 242.5 L673.0 240.8 L674.7 243.3 L676.3 235.0 L678.0 241.7 L679.7 234.2 L681.3 250.0 L683.3 250.0 L685.0 249.2 L686.7 233.3 L688.3 222.5 L690.3 215.8 L692.5 198.3 L694.7 195.0 L697.0 192.5 L699.2 178.3 L701.2 176.7 L703.0 186.7 L705.0 189.2 L707.5 178.3 L709.7 166.7 L711.3 188.3 L713.0 186.7 L714.7 196.7 L716.7 195.8 L718.3 202.5 L720.8 196.7 L723.0 186.7 L725.0 178.3 L727.5 180.8 L730.0 176.7 L731.7 181.7 L733.7 175.8 L735.3 182.5 L737.5 183.3 L738.7 200.0 L740.8 192.5 L743.0 198.3 L745.0 192.5 L746.7 201.7 L748.7 205.8 L750.3 208.3 L752.5 201.7 L755.8 211.7 L757.5 207.5 L759.2 196.7 L760.8 185.0 L762.5 183.3 L764.5 200.0 L766.3 191.7 L768.0 191.7 L769.7 213.3 L771.3 223.3 L773.0 224.2 L774.7 211.7 L776.3 205.0 L778.3 210.8 L780.8 208.3 L783.0 210.8 L784.7 219.2 L786.3 215.0 L788.3 231.7 L790.8 234.2 L793.0 251.7 L795.0 246.7 L796.7 242.5 L798.3 238.3 L800.0 240.8 L801.7 248.3 L803.3 240.8 L805.8 237.5 L809.2 235.0 L811.3 225.8 L813.3 220.8 L815.0 228.3 L817.0 244.2 L818.7 247.5 L820.8 247.5 L822.0 245.0 L823.3 243.3 L825.0 239.2 L827.0 244.2 L829.2 242.5 L830.8 237.5 L832.0 250.0 L833.7 250.0 L835.8 240.0 L837.5 242.5 L839.2 239.2 L840.8 254.2 L842.5 248.3 L844.2 252.5 L845.8 249.2 L847.5 243.3 L848.7 260.0 L850.3 262.5 L852.5 265.0 L854.2 258.3 L855.8 245.8 L857.5 242.5 L859.2 238.3 L860.8 239.2 L863.3 228.3 L865.0 223.3 L866.7 211.7 L868.0 206.7 L869.7 220.0 L871.3 224.2 L873.3 226.7 L875.3 222.5 L877.5 214.2 L879.2 210.0 L881.3 207.5 L883.0 200.8 L885.0 201.7 L886.7 204.2 L888.3 197.5 L890.0 187.5 L891.7 195.8 L893.7 190.0 L894.7 200.0 L896.7 187.5 L898.3 185.0 L900.3 189.2 L902.0 200.0 L903.7 200.8 L905.0 210.0 L906.7 205.0 L908.3 207.5 L910.0 208.3 L912.5 213.3 L915.0 218.3 L917.5 211.7 L919.7 200.0 L921.3 196.7 L923.3 196.7 L925.0 180.0 L927.0 177.5 L928.7 170.0 L930.0 164.2 L932.0 171.7 L933.3 160.0 L935.3 158.3 L937.0 155.0 L938.7 146.7 L940.3 155.0 L942.0 150.0 L943.7 148.3 L945.3 135.0 L947.0 127.5 L949.2 122.5 L950.8 130.0 L952.5 139.2 L954.7 128.3 L956.3 125.0 L958.0 128.3 L959.7 125.0 L961.3 115.8 L963.0 110.8 L964.2 85.0 L965.8 80.0 L967.5 85.0 L969.7 85.8 L971.3 84.2 L973.0 93.3 L974.7 100.0 L976.3 113.3 L978.0 124.2 L980.3 126.7" fill="none" stroke="#9467bd" stroke-opacity="0.7" stroke-width="3.125" stroke-linejoin="round" stroke-linecap="butt" clip-path="url(#c1)"/>
<path d="M1180.3 150.0 L1182.0 160.0 L1184.2 170.0 L1186.7 175.0 L1188.7 185.0 L1190.8 193.3 L1193.3 196.7 L1195.3 206.7 L1197.5 213.3 L1199.7 218.3 L1201.7 220.8 L1203.7 220.0 L1205.0 230.0 L1207.0 225.0 L1208.7 226.7 L1210.8 245.0 L1213.0 253.3 L1214.7 243.3 L1216.7 258.3 L1218.7 268.3 L1220.3 262.5 L1222.5 261.7 L1224.7 260.8 L1226.3 251.7 L1228.3 246.7 L1230.0 253.3 L1232.0 246.7 L1234.2 242.5 L1236.3 236.7 L1238.3 228.3 L1240.0 236.7 L1242.0 256.7 L1243.7 265.8 L1245.8 276.7 L1247.5 286.7 L1249.7 292.5 L1251.7 293.3 L1253.7 296.7 L1255.3 306.7 L1256.7 321.7 L1258.3 308.3 L1260.3 328.3 L1262.0 313.3 L1263.7 305.0 L1265.8 304.2 L1268.0 296.7 L1270.0 304.2 L1272.0 293.3 L1274.2 281.7 L1276.3 278.3 L1278.0 274.2 L1279.7 284.2 L1281.3 278.3 L1283.3 291.7 L1285.8 304.2 L1287.5 290.0 L1289.2 275.0 L1290.8 265.0 L1293.0 267.5 L1295.0 275.0 L1296.7 288.3 L1298.3 276.7 L1300.0 273.3 L1301.7 281.7 L1303.3 311.7 L1305.0 330.0 L1307.0 336.7 L1309.2 335.0 L1311.3 343.3 L1313.3 346.7 L1315.0 340.0 L1316.7 323.3 L1318.3 320.0 L1320.0 305.8 L1322.0 308.3 L1323.3 314.2 L1325.0 301.7 L1327.0 290.0 L1329.2 278.3 L1331.3 271.7 L1333.3 266.7 L1335.3 258.3 L1337.0 253.3 L1338.7 249.2 L1340.3 258.3 L1342.5 261.7 L1344.7 260.0 L1346.3 267.5 L1348.0 274.2 L1350.3 275.0 L1352.5 270.8 L1354.7 267.5 L1356.7 272.5 L1358.7 280.0 L1360.8 281.7 L1363.0 290.0 L1365.0 293.3 L1367.0 300.0 L1369.2 306.7 L1371.3 311.7 L1373.3 317.5 L1375.3 319.2 L1377.5 315.8 L1379.7 320.0 L1381.3 313.3 L1383.3 328.3 L1385.8 325.0 L1387.5 335.0 L1389.7 345.0 L1391.3 350.8 L1392.5 363.3 L1394.2 373.3 L1395.8 381.7 L1397.5 389.2 L1399.7 385.0 L1401.7 385.0 L1403.3 388.3 L1405.0 388.3 L1406.7 371.7 L1408.7 364.2 L1410.8 363.3 L1413.0 366.7 L1414.7 369.2 L1416.7 360.8 L1418.3 355.8 L1420.0 362.5 L1421.7 353.3 L1423.7 350.8 L1425.3 340.0 L1427.0 332.5 L1428.7 330.8 L1430.3 319.2 L1432.5 330.0 L1433.7 334.2 L1435.3 329.2 L1437.0 336.7 L1438.7 341.7 L1440.3 326.7 L1442.5 318.3 L1444.2 314.2 L1445.8 321.7 L1448.0 315.0 L1450.0 301.7 L1452.0 289.2 L1453.7 295.8 L1455.3 299.2 L1457.5 300.0 L1459.7 303.3 L1461.3 313.3 L1463.0 333.3 L1464.7 326.7 L1465.8 321.7 L1468.0 340.0 L1470.0 350.0 L1472.0 343.3 L1473.7 356.7 L1475.8 355.8 L1478.0 355.0 L1479.7 365.0 L1482.0 358.3 L1484.2 365.0 L1486.3 361.7 L1488.3 363.3 L1490.0 371.7 L1491.7 386.7 L1493.7 398.3 L1495.0 404.2 L1496.3 403.3 L1497.5 420.0 L1499.2 430.0 L1501.3 431.7 L1503.0 438.3 L1505.0 453.3 L1506.7 458.3 L1508.3 452.5 L1509.7 447.5 L1511.7 486.7 L1513.3 475.0 L1515.0 463.3 L1516.7 460.8 L1518.3 463.3 L1520.0 466.7 L1521.7 453.3 L1523.3 450.8 L1525.0 458.3 L1526.7 454.2 L1528.7 463.3 L1530.8 464.2 L1533.0 466.7 L1535.0 466.7 L1537.0 463.3 L1538.7 473.3 L1540.8 480.8 L1542.5 482.5 L1544.2 492.5 L1545.8 505.8 L1548.0 509.2 L1549.7 520.0 L1551.3 536.7 L1553.0 546.7 L1555.0 538.3 L1557.0 537.5 L1558.7 554.2 L1560.8 554.2 L1562.5 561.7 L1564.2 569.2 L1565.8 560.8 L1567.5 553.3 L1569.2 543.3 L1571.3 548.3 L1573.3 558.3 L1575.0 550.0 L1576.7 550.8 L1578.3 568.3 L1580.0 588.3 L1581.7 593.3 L1583.3 594.2 L1585.0 580.0 L1586.7 590.0 L1588.3 575.0 L1589.7 570.0 L1591.3 583.3 L1593.0 593.3 L1594.7 610.0 L1596.3 628.3 L1598.0 638.3 L1599.7 643.3 L1601.3 633.3 L1603.3 645.0 L1605.0 639.2 L1606.7 630.0 L1608.3 630.0 L1609.7 611.7 L1611.3 620.8 L1613.0 620.0 L1614.7 633.3 L1616.7 634.2 L1618.3 631.7 L1620.0 641.7 L1621.7 651.7 L1623.3 635.0 L1625.3 620.8 L1627.0 620.0 L1629.2 626.7 L1631.7 630.0 L1633.7 623.3 L1635.3 630.0 L1637.0 636.7 L1639.2 618.3 L1640.3 610.8 L1642.0 615.0 L1643.7 600.8 L1645.3 605.0 L1647.0 601.7 L1648.7 616.7 L1650.8 606.7 L1652.5 603.3 L1654.7 603.3 L1657.5 615.8 L1659.2 600.0 L1660.8 597.5 L1662.5 598.3 L1664.2 585.8 L1665.8 606.7 L1667.5 610.0 L1669.2 603.3 L1670.8 611.7 L1673.0 613.3 L1675.0 615.0 L1677.0 616.7 L1678.3 621.7 L1679.7 636.7 L1680.8 630.0 L1682.5 630.8 L1684.2 648.3 L1686.3 653.3 L1688.0 661.7 L1689.2 667.5 L1691.3 650.0 L1693.0 655.0 L1694.7 663.3 L1696.3 658.3 L1698.0 675.0 L1699.7 680.8 L1701.3 674.2 L1703.0 690.0 L1705.0 706.7 L1707.5 706.7 L1710.0 706.7 L1712.0 715.0 L1713.7 725.0 L1715.0 740.0 L1716.3 755.0 L1718.0 750.0 L1719.7 753.3 L1721.3 746.7 L1723.0 746.7 L1725.0 749.2 L1726.7 753.3 L1728.7 762.5 L1730.3 766.7 L1732.0 769.2 L1733.7 758.3 L1735.3 760.8 L1737.0 766.7 L1738.7 765.0 L1740.3 760.0 L1742.0 754.2 L1744.2 750.0 L1745.8 756.7 L1747.5 748.3 L1749.2 741.7 L1750.8 734.2 L1752.5 743.3 L1753.7 723.3 L1755.3 739.2 L1757.0 740.0 L1759.2 740.0 L1760.8 731.7 L1763.0 729.2 L1765.3 724.2 L1767.0 729.2 L1768.7 746.7 L1770.3 740.0 L1772.0 750.8 L1774.2 741.7 L1775.8 754.2 L1777.5 750.8 L1779.2 756.7 L1780.8 758.3 L1782.5 768.3 L1784.2 776.7 L1786.3 778.3 L1788.0 768.3 L1789.7 760.0 L1791.3 755.8 L1793.0 760.0 L1794.7 775.0 L1796.3 756.7 L1798.0 751.7 L1799.7 758.3 L1801.7 761.7 L1803.3 765.0 L1804.7 743.3 L1806.7 736.7 L1808.7 732.5 L1810.0 731.7 L1811.7 736.7 L1813.3 747.5 L1815.0 736.7 L1816.7 745.0 L1818.7 736.7 L1820.3 725.0 L1822.0 720.8 L1824.2 720.8 L1826.7 723.3 L1828.3 745.0 L1830.0 746.7 L1832.5 745.0 L1834.2 733.3 L1835.0 726.7 L1835.7 726.7 L1837.3 729.2 L1838.7 733.3 L1840.3 722.5 L1842.0 726.7 L1843.7 701.7 L1845.7 696.7 L1847.3 691.7 L1848.7 666.7 L1850.7 663.3 L1852.7 658.3 L1854.0 645.0 L1855.7 640.0 L1857.3 633.3 L1859.3 635.0 L1861.0 639.2 L1862.7 648.3 L1864.3 644.2 L1865.7 673.3 L1867.3 671.7 L1869.0 699.2 L1870.7 693.3 L1872.3 696.7 L1874.3 696.7 L1876.0 693.3 L1877.7 690.8 L1879.3 704.2 L1881.5 703.3 L1883.2 700.8 L1884.8 713.3 L1886.5 716.7 L1888.2 715.0 L1889.8 723.3 L1891.5 716.7 L1893.2 709.2 L1894.8 720.0 L1896.5 731.7 L1898.2 725.8 L1899.8 736.7 L1901.5 745.0 L1903.2 751.7 L1904.8 740.0 L1906.5 733.3 L1908.2 742.5 L1909.8 745.8 L1911.5 731.7 L1913.2 744.2 L1915.3 747.5 L1917.0 733.3 L1918.7 723.3 L1920.3 710.8 L1921.5 698.3 L1923.2 702.5 L1924.8 685.8 L1926.5 690.0 L1928.2 695.0 L1930.3 693.3 L1932.3 691.7 L1933.7 685.8 L1935.7 682.5 L1937.3 679.2 L1938.7 672.5 L1940.7 670.8 L1942.3 667.5 L1944.0 670.8 L1945.7 677.5 L1947.3 676.7 L1949.0 668.3 L1950.7 671.7 L1952.3 684.2 L1954.0 678.3 L1956.0 680.8 L1957.7 684.2 L1959.3 687.5 L1961.0 684.2 L1962.7 673.3 L1964.0 663.3 L1965.7 647.5 L1967.3 651.7 L1969.0 638.3 L1971.0 635.8 L1972.7 628.3 L1974.3 649.2 L1976.0 656.7 L1977.7 661.7 L1979.3 648.3 L1981.5 639.2 L1983.2 631.7 L1984.8 629.2 L1986.5 643.3 L1988.2 645.8 L1989.8 658.3 L1991.5 662.5 L1993.2 664.2 L1994.8 657.5 L1996.5 663.3 L1998.7 661.7 L1999.8 674.2 L2001.5 671.7 L2003.2 670.0 L2005.3 674.2 L2008.2 675.0 L2009.8 666.7 L2011.8 656.7 L2013.2 666.7 L2014.8 680.8 L2016.5 684.2 L2018.2 691.7 L2019.8 698.3 L2021.8 704.2 L2023.7 696.7 L2025.3 693.3 L2027.3 685.0" fill="none" stroke="#1f77b4" stroke-opacity="0.7" stroke-width="3.125" stroke-linejoin="round" stroke-linecap="butt" clip-path="url(#c2)"/>
<path d="M1180.3 155.0 L1182.5 169.2 L1184.7 176.7 L1186.7 179.2 L1188.7 188.3 L1190.8 198.3 L1193.3 200.0 L1195.3 210.0 L1197.5 220.0 L1199.7 231.7 L1201.7 239.2 L1203.7 240.8 L1205.0 257.5 L1207.0 235.0 L1209.2 227.5 L1210.8 234.2 L1213.0 243.3 L1214.7 233.3 L1216.7 248.3 L1218.7 263.3 L1220.8 251.7 L1223.0 242.5 L1225.0 240.0 L1227.5 228.3 L1230.0 225.0 L1232.0 238.3 L1234.2 230.0 L1236.3 218.3 L1238.3 210.0 L1240.0 215.0 L1242.0 226.7 L1244.2 241.7 L1245.8 256.7 L1247.5 273.3 L1249.7 286.7 L1251.7 292.5 L1253.7 294.2 L1255.3 315.0 L1257.0 328.3 L1259.2 322.5 L1261.3 313.3 L1263.0 303.3 L1265.0 298.3 L1266.7 306.7 L1268.7 291.7 L1270.8 283.3 L1273.0 275.0 L1275.0 263.3 L1277.0 261.7 L1279.2 266.7 L1280.8 281.7 L1282.5 295.0 L1284.7 316.7 L1286.7 320.0 L1288.7 320.0 L1290.3 300.0 L1292.5 294.2 L1294.2 297.5 L1295.8 320.0 L1297.5 322.5 L1299.7 319.2 L1301.7 328.3 L1303.7 340.0 L1305.8 343.3 L1308.0 341.7 L1310.3 336.7 L1312.5 340.0 L1315.0 341.7 L1316.7 330.0 L1318.3 338.3 L1320.0 310.8 L1322.0 307.5 L1324.2 310.0 L1326.3 306.7 L1328.3 300.0 L1330.8 290.8 L1333.0 281.7 L1335.0 275.0 L1337.0 268.3 L1338.7 260.0 L1340.3 256.7 L1342.5 254.2 L1344.7 259.2 L1346.7 270.0 L1348.7 271.7 L1350.0 263.3 L1351.7 268.3 L1353.3 255.0 L1355.3 250.0 L1357.0 240.8 L1358.7 251.7 L1360.3 266.7 L1362.0 276.7 L1364.2 290.8 L1366.3 275.0 L1368.3 272.5 L1370.0 273.3 L1371.7 281.7 L1373.7 300.0 L1375.8 310.0 L1378.0 311.7 L1380.0 320.8 L1382.0 328.3 L1384.2 343.3 L1386.3 341.7 L1388.3 355.0 L1389.2 371.7 L1390.8 373.3 L1392.0 386.7 L1393.0 405.8 L1394.7 393.3 L1395.8 386.7 L1398.0 385.0 L1400.0 375.8 L1402.0 374.2 L1404.2 362.5 L1406.3 341.7 L1408.0 328.3 L1409.7 341.7 L1411.7 340.0 L1413.7 335.8 L1415.3 340.0 L1417.5 321.7 L1419.7 311.7 L1421.7 300.0 L1423.3 302.5 L1425.0 307.5 L1426.7 286.7 L1428.7 287.5 L1430.8 285.0 L1433.0 278.3 L1435.0 288.3 L1436.7 290.0 L1438.7 274.2 L1440.8 262.5 L1443.0 254.2 L1445.0 241.7 L1447.0 233.3 L1449.2 228.3 L1451.3 209.2 L1453.3 201.7 L1455.3 213.3 L1457.0 220.8 L1458.7 225.0 L1460.8 220.0 L1462.5 230.0 L1464.7 217.5 L1466.3 213.3 L1468.3 223.3 L1470.8 227.5 L1473.3 225.8 L1475.3 224.2 L1477.0 211.7 L1479.2 225.0 L1481.3 223.3 L1483.0 212.5 L1485.0 210.8 L1486.3 206.7 L1488.0 210.8 L1489.7 207.5 L1491.3 220.0 L1493.3 236.7 L1495.0 246.7 L1497.0 255.8 L1498.7 275.0 L1500.3 293.3 L1501.7 298.3 L1503.3 286.7 L1505.0 286.7 L1507.0 298.3 L1509.2 300.0 L1510.8 320.0 L1512.5 343.3 L1514.2 355.0 L1515.0 343.3 L1517.0 331.7 L1518.7 319.2 L1520.3 317.5 L1522.0 303.3 L1524.2 297.5 L1525.8 290.0 L1527.0 287.5 L1528.7 303.3 L1530.3 321.7 L1532.5 328.3 L1534.2 333.3 L1535.8 341.7 L1537.5 350.0 L1539.2 354.2 L1540.8 360.0 L1542.5 355.0 L1545.0 360.0 L1547.5 358.3 L1549.2 361.7 L1550.8 380.0 L1552.5 393.3 L1554.2 406.7 L1555.8 404.2 L1557.5 415.0 L1559.2 425.0 L1560.8 430.0 L1562.5 433.3 L1564.2 433.3 L1565.3 416.7 L1567.5 410.0 L1570.0 405.8 L1572.5 402.5 L1574.2 400.8 L1575.8 394.2 L1577.5 406.7 L1579.2 423.3 L1580.8 438.3 L1582.5 430.0 L1584.2 423.3 L1585.8 416.7 L1587.5 406.7 L1589.2 405.0 L1590.8 416.7 L1592.5 430.0 L1594.2 438.3 L1596.3 446.7 L1598.0 453.3 L1600.0 453.3 L1602.0 445.0 L1604.2 448.3 L1605.8 436.7 L1607.5 450.0 L1608.7 464.2 L1610.3 458.3 L1612.5 443.3 L1614.2 458.3 L1615.8 461.7 L1617.5 458.3 L1619.2 463.3 L1621.7 476.7 L1623.3 468.3 L1625.3 453.3 L1627.0 438.3 L1628.7 425.0 L1630.3 420.0 L1632.0 423.3 L1633.7 426.7 L1635.8 433.3 L1638.0 428.3 L1640.0 420.0 L1642.0 418.3 L1644.2 409.2 L1645.8 423.3 L1647.5 410.0 L1649.2 409.2 L1650.8 413.3 L1652.5 401.7 L1654.2 393.3 L1655.8 400.0 L1657.5 415.8 L1659.7 386.7 L1661.7 403.3 L1664.2 375.0 L1666.7 378.3 L1668.7 366.7 L1670.8 381.7 L1673.0 375.0 L1675.0 361.7 L1677.0 350.0 L1679.2 351.7 L1681.3 343.3 L1683.3 350.8 L1685.0 363.3 L1687.0 360.0 L1689.2 368.3 L1691.3 357.5 L1693.3 355.8 L1695.3 352.5 L1696.3 350.0 L1698.0 370.0 L1699.7 380.0 L1701.7 379.2 L1703.7 383.3 L1705.8 386.7 L1707.5 388.3 L1709.7 375.0 L1711.7 375.0 L1713.0 390.0 L1714.2 410.0 L1715.8 430.0 L1717.0 441.7 L1718.3 448.3 L1720.0 436.7 L1721.7 428.3 L1723.3 426.7 L1725.3 430.0 L1727.5 435.0 L1729.2 434.2 L1730.8 441.7 L1732.5 440.0 L1734.2 423.3 L1735.3 413.3 L1737.5 411.7 L1739.2 403.3 L1740.8 391.7 L1743.0 379.2 L1745.0 380.0 L1746.7 370.0 L1748.7 356.7 L1750.3 345.8 L1752.0 345.0 L1753.7 343.3 L1755.8 350.0 L1757.5 357.5 L1759.7 353.3 L1761.7 348.3 L1763.7 346.7 L1765.8 338.3 L1767.5 343.3 L1769.2 346.7 L1771.3 340.8 L1773.3 345.8 L1775.3 349.2 L1777.5 353.3 L1779.7 360.0 L1781.3 365.0 L1783.0 380.0 L1784.7 393.3 L1786.7 401.7 L1789.2 406.7 L1791.3 400.0 L1793.3 412.5 L1795.3 420.0 L1797.5 410.0 L1800.0 400.8 L1801.7 418.3 L1803.3 416.7 L1805.0 403.3 L1806.7 395.0 L1808.7 391.7 L1810.8 403.3 L1812.5 416.7 L1814.2 410.0 L1815.8 403.3 L1817.5 396.7 L1819.2 390.0 L1821.3 383.3 L1823.0 385.0 L1825.0 378.3 L1826.7 393.3 L1828.3 401.7 L1830.8 416.7 L1832.5 426.7 L1834.2 428.3 L1835.0 425.0 L1835.3 410.0 L1837.0 396.7 L1838.7 388.3 L1840.3 396.7 L1842.3 396.7 L1844.3 376.7 L1846.5 363.3 L1848.7 351.7 L1850.7 343.3 L1853.2 336.7 L1855.3 341.7 L1857.3 343.3 L1859.3 348.3 L1861.5 352.5 L1863.2 358.3 L1864.8 375.0 L1866.5 386.7 L1868.7 396.7 L1870.7 403.3 L1872.7 410.0 L1874.8 400.0 L1877.0 401.7 L1879.0 390.0 L1880.7 406.7 L1882.7 420.0 L1884.8 430.0 L1887.0 433.3 L1889.0 436.7 L1891.0 433.3 L1892.7 428.3 L1894.3 443.3 L1896.0 456.7 L1898.2 455.0 L1899.8 461.7 L1901.5 467.5 L1903.2 472.5 L1904.8 456.7 L1906.0 440.0 L1907.0 426.7 L1908.7 445.0 L1910.7 446.7 L1912.3 438.3 L1913.7 450.8 L1915.7 440.0 L1918.2 436.7 L1919.8 428.3 L1921.5 416.7 L1923.2 406.7 L1924.8 393.3 L1926.5 408.3 L1929.0 407.5 L1931.0 405.0 L1933.2 404.2 L1935.3 410.0 L1937.7 405.0 L1939.8 410.0 L1942.0 411.7 L1944.0 415.0 L1945.7 420.0 L1947.7 413.3 L1949.3 413.3 L1951.0 420.0 L1952.7 430.0 L1954.8 428.3 L1956.5 436.7 L1958.7 440.0 L1960.7 441.7 L1962.3 425.0 L1964.3 413.3 L1966.0 408.3 L1967.7 411.7 L1969.3 409.2 L1971.0 420.0 L1972.7 416.7 L1974.3 415.8 L1976.0 410.8 L1977.7 425.8 L1979.3 423.3 L1981.0 425.8 L1982.7 410.8 L1984.3 416.7 L1986.0 426.7 L1988.2 427.5 L1989.8 440.0 L1991.5 452.5 L1993.7 448.3 L1995.3 443.3 L1997.3 448.3 L1998.7 446.7 L2000.3 460.0 L2002.0 464.2 L2004.0 450.0 L2006.0 455.0 L2008.2 463.3 L2010.3 456.7 L2012.0 447.5 L2013.7 453.3 L2015.3 466.7 L2017.0 481.7 L2018.7 485.0 L2020.3 498.3 L2022.0 505.8 L2023.7 490.8 L2025.7 490.0 L2027.3 471.7" fill="none" stroke="#ff7f0e" stroke-opacity="0.7" stroke-width="3.125" stroke-linejoin="round" stroke-linecap="butt" clip-path="url(#c2)"/>
<path d="M1180.3 133.3 L1182.0 141.7 L1184.2 146.7 L1185.8 147.5 L1187.5 154.2 L1189.2 155.0 L1190.8 160.8 L1193.3 156.7 L1196.3 150.8 L1198.0 164.2 L1200.0 168.3 L1202.5 173.3 L1204.7 186.7 L1206.3 180.0 L1208.0 180.0 L1210.0 186.7 L1212.0 193.3 L1213.7 191.7 L1215.0 187.5 L1216.7 203.3 L1218.0 211.7 L1220.0 212.5 L1222.0 209.2 L1223.7 201.7 L1225.8 195.8 L1228.3 193.3 L1230.8 196.7 L1233.0 198.3 L1234.7 186.7 L1235.8 182.5 L1237.0 182.5 L1238.3 170.8 L1240.3 170.0 L1242.0 180.0 L1243.7 192.5 L1245.3 190.0 L1247.0 210.8 L1249.2 211.7 L1251.7 216.7 L1254.2 226.7 L1255.8 232.5 L1257.5 240.0 L1259.2 242.5 L1260.8 246.7 L1262.5 236.7 L1264.2 231.7 L1265.8 230.0 L1267.5 217.5 L1269.2 210.0 L1270.8 203.3 L1272.5 202.5 L1274.2 207.5 L1275.8 189.2 L1278.0 184.2 L1280.3 187.5 L1283.0 191.7 L1285.0 195.8 L1286.7 198.3 L1288.7 186.7 L1290.0 173.3 L1291.3 169.2 L1293.0 174.2 L1295.0 180.8 L1297.5 186.7 L1299.7 176.7 L1301.7 186.7 L1304.7 192.5 L1306.7 185.0 L1308.7 186.7 L1310.8 184.2 L1313.0 191.7 L1315.0 197.5 L1316.7 184.2 L1318.3 182.5 L1319.7 165.8 L1321.7 170.0 L1323.3 175.0 L1325.0 161.7 L1326.7 153.3 L1328.3 141.7 L1330.0 131.7 L1331.3 122.5 L1333.3 119.2 L1335.3 113.3 L1337.5 105.0 L1339.7 106.7 L1342.0 100.8 L1344.2 104.2 L1345.8 105.0 L1347.0 114.2 L1348.3 105.0 L1350.0 99.2 L1352.0 92.5 L1354.2 95.8 L1356.7 97.5 L1358.3 101.7 L1360.0 108.3 L1361.7 115.8 L1363.7 125.8 L1365.8 124.2 L1368.3 123.3 L1370.8 120.8 L1372.5 131.7 L1374.2 142.5 L1376.3 141.7 L1378.3 144.2 L1380.8 138.3 L1382.5 160.0 L1384.2 160.0 L1386.2 154.2 L1388.0 161.7 L1390.0 166.7 L1391.3 170.0 L1392.5 192.5 L1394.7 193.3 L1396.3 190.8 L1398.0 200.8 L1399.7 196.7 L1401.7 193.3 L1404.2 197.5 L1405.8 191.7 L1408.0 172.5 L1410.0 173.3 L1412.0 170.8 L1413.7 169.2 L1415.3 173.3 L1416.7 160.8 L1418.3 146.7 L1420.0 143.3 L1422.0 139.2 L1423.7 140.8 L1425.8 141.7 L1427.5 130.8 L1429.2 130.0 L1430.8 120.0 L1432.0 113.3 L1433.3 120.8 L1435.3 123.3 L1437.5 130.0 L1439.2 131.7 L1441.3 126.7 L1443.0 116.7 L1444.2 112.5 L1445.8 120.0 L1447.5 110.8 L1449.7 95.8 L1450.8 80.8 L1452.5 80.8 L1454.2 89.2 L1455.8 95.8 L1457.5 105.0 L1459.2 108.3 L1460.8 105.8 L1462.5 126.7 L1464.2 121.7 L1465.8 118.3 L1467.0 127.5 L1469.2 126.7 L1470.8 125.8 L1472.5 124.2 L1474.2 133.3 L1475.8 126.7 L1477.5 119.2 L1479.2 126.7 L1480.8 117.5 L1482.5 110.8 L1484.2 113.3 L1485.8 110.0 L1487.5 119.2 L1489.7 125.0 L1491.7 136.7 L1493.3 145.0 L1495.0 148.3 L1496.7 150.8 L1498.3 161.7 L1500.0 171.7 L1501.7 178.3 L1503.3 178.3 L1505.0 179.2 L1506.7 177.5 L1508.3 168.3 L1510.0 170.0 L1511.7 195.8 L1513.7 185.0 L1515.0 171.7 L1516.3 176.7 L1518.3 165.0 L1520.3 173.3 L1522.5 174.2 L1524.7 170.0 L1526.7 158.3 L1528.7 152.5 L1530.8 166.7 L1533.0 181.7 L1535.0 181.7 L1537.5 180.8 L1540.0 176.7 L1542.5 175.0 L1545.0 175.8 L1547.5 175.0 L1549.2 177.5 L1550.8 198.3 L1553.0 212.5 L1554.7 205.0 L1556.3 203.3 L1558.0 208.3 L1559.2 220.0 L1561.7 220.0 L1564.2 220.0 L1565.8 206.7 L1567.5 194.2 L1569.7 187.5 L1572.0 186.7 L1574.2 179.2 L1576.3 176.7 L1577.5 173.3 L1579.7 176.7 L1582.0 178.3 L1584.2 170.0 L1585.8 183.3 L1587.5 169.2 L1589.5 162.5 L1591.3 180.0 L1593.3 188.3 L1595.3 195.8 L1597.5 205.0 L1599.7 206.7 L1601.3 190.8 L1603.3 195.8 L1605.0 185.0 L1606.3 175.0 L1608.0 188.3 L1610.0 180.8 L1611.7 179.2 L1613.7 180.0 L1615.8 187.5 L1618.3 191.7 L1620.0 200.8 L1622.0 201.7 L1623.7 191.7 L1625.8 192.5 L1628.0 195.8 L1630.0 203.3 L1632.0 210.8 L1634.2 210.0 L1635.8 207.5 L1637.0 215.0 L1639.2 216.7 L1640.8 215.0 L1642.5 225.0 L1644.2 225.8 L1645.3 235.0 L1647.0 220.8 L1648.7 224.2 L1650.3 230.0 L1652.5 227.5 L1654.2 223.3 L1655.8 232.5 L1657.5 225.0 L1659.2 214.2 L1660.8 216.7 L1662.5 223.3 L1664.2 215.0 L1665.8 236.7 L1667.0 235.0 L1669.2 225.8 L1670.8 242.5 L1672.5 234.2 L1674.7 237.5 L1676.7 239.2 L1679.2 245.0 L1680.8 251.7 L1682.5 246.7 L1684.2 261.7 L1686.3 255.0 L1688.0 258.3 L1690.0 263.3 L1692.0 261.7 L1694.2 265.0 L1696.3 273.3 L1698.0 280.0 L1699.7 280.8 L1701.3 272.5 L1703.0 275.0 L1705.0 285.8 L1706.7 293.3 L1708.7 300.0 L1710.3 298.3 L1712.5 300.8 L1714.2 310.0 L1715.8 317.5 L1717.5 315.0 L1719.7 308.3 L1721.3 310.0 L1723.0 303.3 L1725.3 302.5 L1727.0 312.5 L1729.2 324.2 L1730.8 330.8 L1732.5 335.0 L1734.2 325.8 L1735.8 321.7 L1737.5 330.0 L1738.7 335.0 L1740.8 326.7 L1742.5 318.3 L1744.2 314.2 L1745.8 319.2 L1747.5 301.7 L1749.2 296.7 L1750.8 281.7 L1752.5 293.3 L1754.2 280.8 L1755.8 299.2 L1757.5 295.0 L1759.2 285.0 L1760.8 278.3 L1763.3 270.0 L1765.3 258.3 L1766.7 256.7 L1768.7 265.8 L1770.3 251.7 L1772.5 246.7 L1774.7 246.7 L1776.3 255.0 L1778.0 252.5 L1779.7 261.7 L1781.7 260.8 L1784.2 271.7 L1786.3 280.0 L1788.3 285.8 L1790.0 268.3 L1791.7 266.7 L1793.3 270.8 L1794.7 290.0 L1796.3 276.7 L1798.3 272.5 L1800.0 270.0 L1802.0 271.7 L1804.2 261.7 L1806.3 256.7 L1808.0 263.3 L1810.0 261.7 L1812.0 270.0 L1813.7 274.2 L1815.8 266.7 L1818.3 265.8 L1820.8 251.7 L1823.0 248.3 L1825.0 247.5 L1827.0 238.3 L1828.7 253.3 L1830.3 260.0 L1832.5 263.3 L1835.0 253.3 L1835.7 251.7 L1838.2 250.0 L1839.8 240.8 L1841.5 250.8 L1843.7 235.8 L1845.7 238.3 L1847.3 240.0 L1849.0 225.0 L1850.3 213.3 L1852.3 213.3 L1854.0 205.8 L1855.7 207.5 L1857.3 203.3 L1859.0 214.2 L1861.0 211.7 L1862.7 220.0 L1864.3 225.0 L1865.7 250.0 L1867.7 250.0 L1869.8 252.5 L1871.5 256.7 L1872.7 263.3 L1874.3 243.3 L1876.0 237.5 L1878.2 235.8 L1880.3 235.8 L1882.7 236.7 L1884.3 246.7 L1886.5 250.0 L1888.2 261.7 L1889.8 271.7 L1891.5 258.3 L1893.2 249.2 L1894.8 266.7 L1896.5 280.0 L1898.2 276.7 L1899.8 290.0 L1902.3 290.0 L1904.0 290.8 L1906.0 286.7 L1907.7 292.5 L1909.3 286.7 L1911.5 285.0 L1913.2 295.0 L1915.3 299.2 L1917.3 293.3 L1919.8 288.3 L1921.5 281.7 L1923.2 268.3 L1924.8 251.7 L1926.5 260.0 L1928.2 257.5 L1930.3 268.3 L1932.3 260.8 L1934.3 260.0 L1936.5 260.0 L1938.7 251.7 L1940.7 250.8 L1942.7 251.7 L1944.0 250.0 L1946.0 261.7 L1948.2 247.5 L1949.8 246.7 L1951.5 253.3 L1954.0 267.5 L1955.7 265.0 L1957.3 258.3 L1959.0 267.5 L1961.0 270.0 L1963.2 266.7 L1965.3 277.5 L1967.3 274.2 L1969.0 271.7 L1971.0 276.7 L1973.2 278.3 L1975.3 283.3 L1977.7 287.5 L1979.8 285.0 L1981.5 270.0 L1982.7 261.7 L1984.8 268.3 L1986.5 265.0 L1988.2 264.2 L1989.8 274.2 L1991.5 279.2 L1993.2 286.7 L1995.3 283.3 L1997.3 275.0 L1999.0 284.2 L2001.0 285.8 L2003.2 283.3 L2005.3 288.3 L2007.3 300.8 L2009.0 301.7 L2011.0 288.3 L2012.7 295.0 L2014.3 305.0 L2016.5 316.7 L2018.2 328.3 L2019.8 341.7 L2022.0 348.3 L2023.7 344.2 L2025.3 350.0 L2027.0 340.0" fill="none" stroke="#2ca02c" stroke-opacity="0.7" stroke-width="3.125" stroke-linejoin="round" stroke-linecap="butt" clip-path="url(#c2)"/>
<path d="M1180.3 142.5 L1182.0 153.3 L1183.7 165.0 L1185.3 173.3 L1186.7 180.0 L1188.0 193.3 L1189.7 208.3 L1191.3 218.3 L1193.3 228.3 L1195.0 241.7 L1196.3 248.3 L1198.0 253.3 L1199.2 275.0 L1201.3 284.2 L1202.5 263.3 L1204.2 261.7 L1205.3 277.5 L1207.0 260.0 L1209.2 251.7 L1211.3 260.0 L1213.0 265.8 L1214.7 255.0 L1216.3 273.3 L1218.3 283.3 L1220.3 275.0 L1222.0 261.7 L1223.7 259.2 L1225.3 265.8 L1227.0 271.7 L1228.7 266.7 L1230.3 268.3 L1232.0 260.8 L1233.7 258.3 L1235.3 248.3 L1237.0 240.0 L1238.7 229.2 L1240.3 221.7 L1242.0 230.0 L1243.7 241.7 L1245.3 255.0 L1247.0 270.0 L1248.7 281.7 L1250.8 277.5 L1252.8 288.3 L1254.7 291.7 L1256.3 310.0 L1258.0 319.2 L1259.7 325.0 L1261.3 315.0 L1263.0 300.0 L1264.7 289.2 L1266.7 291.7 L1268.7 285.8 L1270.8 275.0 L1272.5 261.7 L1274.7 256.7 L1276.3 245.0 L1278.0 234.2 L1279.7 251.7 L1282.0 245.0 L1284.2 262.5 L1286.3 280.0 L1288.0 263.3 L1289.7 246.7 L1291.3 231.7 L1293.0 216.7 L1294.7 215.8 L1296.3 228.3 L1298.0 236.7 L1300.0 235.8 L1301.7 250.0 L1303.3 260.0 L1305.0 270.0 L1307.0 283.3 L1309.2 287.5 L1310.8 303.3 L1313.0 322.5 L1314.7 305.8 L1316.7 298.3 L1318.3 285.0 L1320.0 271.7 L1321.7 265.8 L1323.3 270.0 L1325.0 260.0 L1326.7 251.7 L1328.3 254.2 L1330.0 262.5 L1331.7 248.3 L1333.3 250.0 L1335.0 237.5 L1336.7 225.0 L1338.7 222.5 L1340.3 242.5 L1342.5 244.2 L1344.7 247.5 L1346.7 251.7 L1348.3 246.7 L1350.8 243.3 L1352.5 237.5 L1354.2 228.3 L1355.8 216.7 L1357.5 210.8 L1359.2 226.7 L1360.8 228.3 L1362.5 245.0 L1364.2 256.7 L1365.8 245.0 L1367.5 248.3 L1369.2 243.3 L1371.3 238.3 L1373.0 254.2 L1375.0 268.3 L1377.0 260.0 L1379.2 255.0 L1380.8 253.3 L1383.0 265.8 L1384.7 272.5 L1386.3 261.7 L1388.0 278.3 L1390.0 274.2 L1391.3 270.8 L1393.0 301.7 L1395.0 293.3 L1396.7 287.5 L1398.7 290.8 L1400.3 287.5 L1402.0 289.2 L1404.2 282.5 L1406.3 280.8 L1408.0 269.2 L1410.0 280.8 L1412.0 268.3 L1413.7 267.5 L1415.3 281.7 L1417.0 266.7 L1418.7 262.5 L1420.3 247.5 L1422.5 246.7 L1424.2 255.0 L1425.8 235.0 L1427.5 230.0 L1429.2 220.0 L1430.8 210.0 L1432.5 203.3 L1434.2 226.7 L1435.8 236.7 L1437.5 249.2 L1438.7 258.3 L1440.3 243.3 L1442.0 230.0 L1443.7 227.5 L1445.3 244.2 L1447.0 230.8 L1448.7 233.3 L1450.3 220.0 L1452.0 205.0 L1453.7 202.5 L1455.3 212.5 L1457.0 223.3 L1459.2 228.3 L1460.8 236.7 L1462.5 250.8 L1464.7 243.3 L1466.3 253.3 L1468.3 262.5 L1470.0 270.0 L1471.3 280.0 L1473.3 272.5 L1475.3 270.8 L1477.0 277.5 L1478.7 290.8 L1480.3 295.0 L1482.0 290.0 L1483.7 278.3 L1485.8 254.2 L1487.5 275.0 L1489.2 291.7 L1490.8 306.7 L1493.0 319.2 L1495.0 331.7 L1496.7 330.0 L1498.0 322.5 L1499.7 340.0 L1501.7 355.0 L1504.2 373.3 L1505.8 386.7 L1507.5 385.0 L1509.2 403.3 L1510.8 430.0 L1512.5 440.0 L1515.0 428.3 L1517.5 408.3 L1520.0 393.3 L1522.5 385.0 L1524.7 373.3 L1526.7 367.5 L1528.7 375.0 L1530.8 383.3 L1533.0 393.3 L1535.0 403.3 L1537.5 406.7 L1540.0 410.0 L1542.5 401.7 L1545.0 410.0 L1547.5 413.3 L1549.7 423.3 L1551.3 443.3 L1553.3 465.0 L1555.3 445.0 L1557.5 458.3 L1559.2 450.0 L1560.8 453.3 L1562.5 445.0 L1564.7 443.3 L1566.3 428.3 L1568.0 417.5 L1570.0 423.3 L1571.3 433.3 L1573.3 420.8 L1575.8 422.5 L1578.0 430.0 L1580.0 438.3 L1582.5 445.0 L1584.2 418.3 L1585.8 426.7 L1588.3 410.0 L1590.0 423.3 L1591.7 438.3 L1593.7 440.8 L1595.8 450.0 L1598.0 459.2 L1600.0 443.3 L1602.0 431.7 L1604.2 423.3 L1605.8 403.3 L1607.5 411.7 L1609.7 403.3 L1611.7 401.7 L1613.3 391.7 L1615.0 392.5 L1616.7 400.0 L1618.3 383.3 L1620.0 393.3 L1622.0 403.3 L1624.2 390.0 L1625.8 376.7 L1627.0 365.8 L1628.7 355.0 L1630.3 343.3 L1632.0 338.3 L1633.7 330.0 L1635.3 330.8 L1637.0 344.2 L1638.7 326.7 L1640.8 331.7 L1642.0 328.3 L1643.7 317.5 L1645.3 344.2 L1647.0 328.3 L1648.7 343.3 L1650.3 345.0 L1652.0 323.3 L1654.2 316.7 L1655.8 326.7 L1657.5 343.3 L1658.7 319.2 L1660.0 300.8 L1662.5 298.3 L1664.2 280.0 L1665.8 311.7 L1667.5 312.5 L1669.2 290.8 L1671.3 315.0 L1673.0 295.0 L1674.7 276.7 L1676.3 278.3 L1678.0 266.7 L1679.7 267.5 L1681.3 253.3 L1683.0 258.3 L1684.7 265.8 L1686.3 253.3 L1688.0 249.2 L1689.7 260.0 L1691.7 260.0 L1693.3 253.3 L1695.3 265.0 L1696.7 250.0 L1698.0 270.0 L1699.7 279.2 L1701.3 280.0 L1703.0 294.2 L1705.0 295.8 L1707.0 301.7 L1708.7 302.5 L1710.3 295.0 L1712.0 303.3 L1713.3 320.0 L1714.7 350.0 L1716.3 370.0 L1718.3 369.2 L1720.3 361.7 L1722.5 355.0 L1724.7 354.2 L1726.7 361.7 L1728.7 366.7 L1730.3 375.0 L1732.5 371.7 L1734.2 379.2 L1736.3 385.0 L1738.3 388.3 L1740.0 387.5 L1742.0 380.0 L1743.3 371.7 L1745.0 386.7 L1747.0 373.3 L1748.7 361.7 L1750.3 345.0 L1752.5 361.7 L1754.2 342.5 L1755.8 361.7 L1757.5 370.0 L1759.2 360.0 L1760.8 355.0 L1762.5 346.7 L1764.2 358.3 L1765.8 353.3 L1767.5 355.0 L1769.2 376.7 L1771.3 368.3 L1773.3 370.0 L1775.0 385.0 L1776.7 401.7 L1778.3 388.3 L1780.3 403.3 L1782.5 411.7 L1784.7 421.7 L1786.3 430.0 L1788.3 445.8 L1790.0 430.0 L1791.3 415.0 L1793.3 423.3 L1795.0 437.5 L1796.7 423.3 L1798.3 415.0 L1800.0 413.3 L1801.7 428.3 L1803.3 415.0 L1805.0 393.3 L1806.7 388.3 L1808.7 383.3 L1810.3 388.3 L1812.5 401.7 L1814.2 386.7 L1815.8 390.8 L1817.5 379.2 L1819.7 365.0 L1821.7 350.8 L1823.3 356.7 L1825.3 358.3 L1827.5 371.7 L1829.7 386.7 L1831.7 393.3 L1835.0 395.0 L1836.5 365.0 L1838.7 363.3 L1840.3 350.0 L1842.3 357.5 L1844.3 340.0 L1846.5 333.3 L1848.2 320.0 L1849.8 291.7 L1851.5 288.3 L1853.7 293.3 L1855.7 296.7 L1857.3 313.3 L1859.0 333.3 L1860.7 343.3 L1862.3 350.0 L1864.3 350.0 L1866.0 365.0 L1867.7 383.3 L1869.3 398.3 L1871.5 400.0 L1872.7 410.0 L1874.3 405.0 L1876.5 401.7 L1878.7 396.7 L1880.7 415.0 L1882.3 393.3 L1884.0 403.3 L1885.7 421.7 L1887.7 430.0 L1889.8 433.3 L1891.5 410.0 L1893.7 395.0 L1895.7 396.7 L1898.2 400.0 L1899.8 410.0 L1902.0 415.0 L1904.0 416.7 L1906.0 396.7 L1907.3 385.0 L1909.3 390.0 L1911.5 375.8 L1913.7 385.0 L1915.7 390.0 L1917.3 391.7 L1919.3 380.0 L1921.0 365.0 L1923.2 350.0 L1925.3 324.2 L1927.3 335.0 L1929.8 333.3 L1932.0 335.0 L1933.7 336.7 L1935.7 330.0 L1937.7 326.7 L1939.8 315.8 L1942.0 306.7 L1944.0 300.0 L1945.7 308.3 L1947.3 291.7 L1949.0 289.2 L1951.0 298.3 L1953.2 302.5 L1955.3 313.3 L1957.3 316.7 L1959.3 323.3 L1961.0 341.7 L1962.7 323.3 L1964.8 316.7 L1967.0 314.2 L1969.0 312.5 L1971.0 303.3 L1972.7 291.7 L1974.3 305.0 L1976.0 310.0 L1977.7 326.7 L1979.8 336.7 L1981.5 340.0 L1983.2 321.7 L1985.7 320.0 L1988.2 312.5 L1990.3 323.3 L1992.3 325.0 L1994.8 310.8 L1997.0 325.0 L1998.7 336.7 L2000.3 335.8 L2002.0 343.3 L2004.0 333.3 L2006.0 348.3 L2007.7 351.7 L2009.8 341.7 L2012.0 335.0 L2013.7 330.0 L2015.3 343.3 L2017.0 356.7 L2019.0 371.7 L2020.7 381.7 L2022.3 383.3 L2024.3 371.7 L2026.0 363.3 L2027.7 352.5" fill="none" stroke="#d62728" stroke-opacity="0.7" stroke-width="3.125" stroke-linejoin="round" stroke-linecap="butt" clip-path="url(#c2)"/>
<path d="M1180.3 150.8 L1182.5 166.7 L1184.7 171.7 L1186.7 173.3 L1188.3 167.5 L1190.0 166.7 L1191.7 176.7 L1193.3 179.2 L1194.7 178.3 L1196.3 193.3 L1198.3 203.3 L1200.0 210.0 L1201.7 213.3 L1203.0 205.8 L1204.7 214.2 L1206.7 215.8 L1209.2 215.0 L1210.8 225.8 L1213.0 226.7 L1214.7 216.7 L1215.8 230.0 L1217.5 243.3 L1219.2 254.2 L1220.8 250.0 L1223.0 243.3 L1224.7 240.8 L1226.7 231.7 L1228.0 224.2 L1229.7 233.3 L1231.7 235.0 L1233.7 227.5 L1235.8 224.2 L1238.3 219.2 L1240.0 224.2 L1242.0 234.2 L1244.2 245.0 L1246.3 248.3 L1248.0 259.2 L1250.0 269.2 L1252.0 272.5 L1254.2 276.7 L1255.3 284.2 L1256.7 295.8 L1259.2 295.0 L1260.8 300.0 L1262.5 288.3 L1264.2 278.3 L1265.8 266.7 L1267.0 257.5 L1268.7 256.7 L1270.3 243.3 L1272.5 240.0 L1274.2 235.8 L1275.3 225.0 L1277.5 220.0 L1279.7 218.3 L1281.3 219.2 L1282.5 236.7 L1284.2 251.7 L1285.8 259.2 L1287.5 250.0 L1289.2 238.3 L1290.8 230.0 L1292.5 225.0 L1294.2 228.3 L1295.8 245.0 L1297.5 251.7 L1300.0 257.5 L1302.5 265.8 L1304.2 274.2 L1305.8 278.3 L1308.0 275.0 L1310.0 275.0 L1312.0 281.7 L1313.3 289.2 L1315.0 283.3 L1316.7 270.8 L1318.3 256.7 L1320.0 243.3 L1322.0 237.5 L1323.7 235.8 L1325.8 235.8 L1328.0 232.5 L1329.7 216.7 L1331.3 202.5 L1333.0 188.3 L1334.7 175.0 L1336.7 168.3 L1338.3 160.0 L1340.0 185.0 L1341.7 187.5 L1343.7 191.7 L1345.8 188.3 L1347.5 189.2 L1349.2 182.5 L1351.3 184.2 L1353.3 177.5 L1355.3 179.2 L1357.5 175.0 L1359.2 178.3 L1360.8 177.5 L1362.5 186.7 L1364.2 190.0 L1366.3 189.2 L1368.3 191.7 L1370.8 183.3 L1372.5 199.2 L1374.2 213.3 L1376.3 200.8 L1378.3 201.7 L1380.8 193.3 L1383.0 201.7 L1384.2 210.8 L1385.8 198.3 L1387.5 206.7 L1389.7 213.3 L1391.3 226.7 L1392.5 242.5 L1393.7 256.7 L1395.8 254.2 L1398.0 262.5 L1400.0 260.0 L1402.0 261.7 L1404.2 263.3 L1405.8 261.7 L1408.0 247.5 L1410.0 254.2 L1412.0 259.2 L1414.2 275.8 L1415.8 268.3 L1418.0 263.3 L1420.0 260.8 L1422.5 255.8 L1425.0 265.0 L1426.7 243.3 L1428.7 235.0 L1430.3 232.5 L1432.5 235.0 L1435.0 239.2 L1437.5 246.7 L1439.7 235.0 L1441.7 230.8 L1443.7 233.3 L1445.8 230.0 L1447.5 222.5 L1449.2 205.8 L1450.8 192.5 L1452.5 186.7 L1454.2 185.8 L1455.8 194.2 L1457.5 204.2 L1459.2 202.5 L1460.8 210.8 L1462.5 243.3 L1464.2 239.2 L1465.8 235.0 L1467.5 240.8 L1469.7 245.8 L1471.7 256.7 L1473.7 253.3 L1475.3 265.0 L1476.3 254.2 L1477.5 269.2 L1479.2 294.2 L1480.8 290.0 L1483.0 284.2 L1485.0 289.2 L1487.0 290.0 L1489.2 306.7 L1491.3 317.5 L1493.3 326.7 L1495.0 333.3 L1497.0 341.7 L1499.2 349.2 L1501.3 355.0 L1503.0 356.7 L1505.0 366.7 L1506.7 376.7 L1508.7 373.3 L1510.0 375.0 L1511.3 403.3 L1512.0 420.0 L1513.3 410.0 L1515.3 404.2 L1517.5 401.7 L1520.0 395.8 L1522.5 388.3 L1525.0 381.7 L1527.0 378.3 L1529.2 387.5 L1531.7 379.2 L1533.7 385.0 L1535.8 393.3 L1538.0 400.0 L1540.0 390.0 L1542.0 388.3 L1543.7 401.7 L1545.8 405.0 L1548.0 410.0 L1550.0 420.0 L1552.0 433.3 L1553.7 440.0 L1555.3 421.7 L1557.5 428.3 L1560.0 425.0 L1562.0 431.7 L1564.2 433.3 L1566.3 421.7 L1568.3 427.5 L1570.8 425.0 L1573.3 424.2 L1575.3 422.5 L1577.5 436.7 L1579.7 441.7 L1581.3 439.2 L1583.0 423.3 L1584.2 409.2 L1585.8 413.3 L1587.5 395.8 L1589.5 393.3 L1591.3 408.3 L1593.0 420.0 L1594.7 433.3 L1596.3 445.0 L1598.0 455.0 L1600.0 446.7 L1602.0 436.7 L1604.2 433.3 L1606.3 428.3 L1608.7 430.0 L1610.8 425.0 L1613.3 422.5 L1615.0 436.7 L1616.7 448.3 L1618.7 445.0 L1620.3 453.3 L1622.0 463.3 L1623.3 445.0 L1625.0 428.3 L1627.0 425.8 L1629.2 430.0 L1630.8 440.8 L1632.5 435.0 L1634.7 434.2 L1636.7 439.2 L1638.7 425.0 L1640.3 415.8 L1642.5 411.7 L1644.2 403.3 L1645.8 401.7 L1647.0 390.8 L1648.7 400.8 L1650.3 396.7 L1652.5 385.0 L1654.7 379.2 L1656.7 386.7 L1658.3 370.0 L1660.3 360.0 L1662.5 358.3 L1664.2 342.5 L1666.3 360.0 L1668.3 347.5 L1670.0 365.0 L1672.0 373.3 L1674.2 368.3 L1676.3 375.0 L1678.0 373.3 L1679.7 395.0 L1681.3 386.7 L1683.0 379.2 L1685.0 390.0 L1687.0 393.3 L1689.2 388.3 L1691.3 380.0 L1693.3 390.0 L1695.3 403.3 L1697.0 411.7 L1698.7 425.0 L1700.3 433.3 L1702.0 443.3 L1703.7 461.7 L1705.3 476.7 L1707.5 477.5 L1709.7 475.0 L1711.3 488.3 L1713.0 503.3 L1714.7 523.3 L1716.7 541.7 L1718.7 538.3 L1720.8 530.0 L1723.0 518.3 L1725.0 513.3 L1727.0 508.3 L1729.2 513.3 L1731.7 523.3 L1733.7 515.8 L1735.8 511.7 L1738.3 517.5 L1740.0 506.7 L1742.0 500.0 L1744.2 495.0 L1745.8 490.0 L1747.5 480.0 L1749.2 470.0 L1750.3 446.7 L1752.0 461.7 L1753.3 453.3 L1755.3 466.7 L1757.0 472.5 L1759.2 460.0 L1761.3 458.3 L1763.3 454.2 L1765.3 450.0 L1767.5 456.7 L1769.7 461.7 L1771.3 448.3 L1773.0 460.0 L1774.7 445.0 L1776.7 454.2 L1779.2 453.3 L1781.7 452.5 L1783.3 450.0 L1785.3 461.7 L1787.0 469.2 L1789.2 460.0 L1791.3 438.3 L1793.0 450.0 L1794.7 455.8 L1796.7 438.3 L1798.7 445.0 L1800.8 448.3 L1803.3 450.0 L1805.0 428.3 L1806.7 421.7 L1809.2 419.2 L1811.7 420.0 L1813.3 421.7 L1815.8 413.3 L1817.5 405.0 L1819.2 400.0 L1820.8 395.8 L1823.0 401.7 L1825.0 396.7 L1827.0 398.3 L1829.2 406.7 L1830.8 420.0 L1833.0 420.0 L1835.0 400.0 L1835.7 396.7 L1837.3 386.7 L1839.0 378.3 L1840.7 370.0 L1842.3 371.7 L1844.3 353.3 L1846.0 341.7 L1847.7 333.3 L1849.3 320.0 L1851.0 310.0 L1852.3 303.3 L1854.0 280.0 L1855.7 285.0 L1857.3 291.7 L1859.0 296.7 L1860.7 310.0 L1862.3 323.3 L1864.3 324.2 L1866.0 343.3 L1868.2 352.5 L1870.3 353.3 L1872.3 353.3 L1874.0 363.3 L1875.7 370.0 L1877.7 376.7 L1879.8 375.0 L1881.5 396.7 L1883.7 410.0 L1885.7 415.0 L1887.3 410.0 L1889.0 425.0 L1890.3 433.3 L1892.0 416.7 L1893.7 423.3 L1895.3 438.3 L1897.0 446.7 L1898.7 448.3 L1900.3 455.0 L1902.3 465.0 L1904.0 460.0 L1905.7 433.3 L1907.7 440.0 L1909.3 431.7 L1911.5 410.8 L1913.2 425.0 L1915.3 431.7 L1917.0 433.3 L1918.7 423.3 L1920.3 410.0 L1922.0 391.7 L1923.7 371.7 L1925.3 358.3 L1927.0 371.7 L1928.7 366.7 L1930.3 365.0 L1932.0 376.7 L1933.7 380.0 L1935.3 385.8 L1937.3 375.0 L1939.0 368.3 L1941.0 365.8 L1942.7 371.7 L1944.3 366.7 L1946.0 365.0 L1947.3 351.7 L1949.0 336.7 L1950.7 335.0 L1952.7 332.5 L1954.3 327.5 L1956.5 331.7 L1958.7 330.0 L1960.7 341.7 L1962.7 333.3 L1964.8 338.3 L1967.0 336.7 L1969.0 332.5 L1971.0 330.0 L1972.7 325.0 L1974.3 341.7 L1976.0 351.7 L1978.2 358.3 L1980.3 363.3 L1982.0 365.0 L1983.7 346.7 L1985.3 344.2 L1986.5 355.0 L1988.2 343.3 L1990.3 344.2 L1992.3 345.8 L1994.3 348.3 L1996.5 358.3 L1998.2 360.0 L2000.3 370.0 L2002.3 363.3 L2004.0 348.3 L2005.7 356.7 L2007.7 363.3 L2009.8 366.7 L2011.5 363.3 L2013.2 375.0 L2014.8 386.7 L2017.0 400.0 L2018.7 396.7 L2020.3 416.7 L2022.0 430.8 L2023.7 425.0 L2025.3 413.3 L2027.3 398.3" fill="none" stroke="#9467bd" stroke-opacity="0.7" stroke-width="3.125" stroke-linejoin="round" stroke-linecap="butt" clip-path="url(#c2)"/>
<g fill="#1f77b4" clip-path="url(#c3)">
<circle cx="231.7" cy="973.0" r="4.65"/>
<circle cx="231.7" cy="1053.2" r="4.65"/>
<circle cx="231.7" cy="1059.6" r="4.65"/>
<circle cx="231.7" cy="1062.2" r="4.65"/>
<circle cx="231.7" cy="1072.0" r="4.65"/>
<circle cx="231.7" cy="1074.6" r="4.65"/>
<circle cx="231.7" cy="1080.0" r="4.65"/>
<circle cx="231.7" cy="1081.4" r="4.65"/>
<circle cx="231.7" cy="1083.1" r="4.65"/>
<circle cx="231.7" cy="1084.1" r="4.65"/>
<circle cx="231.7" cy="1085.5" r="4.65"/>
<circle cx="231.7" cy="1087.5" r="4.65"/>
<circle cx="231.7" cy="1089.5" r="4.65"/>
<circle cx="231.7" cy="1090.3" r="4.65"/>
<circle cx="231.7" cy="1091.1" r="4.65"/>
<circle cx="231.7" cy="1091.7" r="4.65"/>
<circle cx="231.7" cy="1092.9" r="4.65"/>
<circle cx="231.7" cy="1093.5" r="4.65"/>
<circle cx="231.7" cy="1094.8" r="4.65"/>
<circle cx="231.7" cy="1096.4" r="4.65"/>
<circle cx="231.7" cy="1097.4" r="4.65"/>
<circle cx="231.7" cy="1099.0" r="4.65"/>
<circle cx="231.7" cy="1100.5" r="4.65"/>
<circle cx="231.7" cy="1101.0" r="4.65"/>
<circle cx="231.7" cy="1102.5" r="4.65"/>
<circle cx="231.7" cy="1103.4" r="4.65"/>
<circle cx="231.7" cy="1104.6" r="4.65"/>
<circle cx="231.7" cy="1105.6" r="4.65"/>
<circle cx="231.7" cy="1107.3" r="4.65"/>
<circle cx="231.7" cy="1108.6" r="4.65"/>
<circle cx="231.7" cy="1109.3" r="4.65"/>
<circle cx="231.7" cy="1110.7" r="4.65"/>
<circle cx="231.7" cy="1112.6" r="4.65"/>
<circle cx="231.7" cy="1113.6" r="4.65"/>
<circle cx="231.7" cy="1114.5" r="4.65"/>
<circle cx="231.7" cy="1115.6" r="4.65"/>
<circle cx="231.7" cy="1117.7" r="4.65"/>
<circle cx="231.7" cy="1119.9" r="4.65"/>
<circle cx="231.7" cy="1121.5" r="4.65"/>
<circle cx="231.7" cy="1123.6" r="4.65"/>
<circle cx="231.7" cy="1125.5" r="4.65"/>
<circle cx="231.7" cy="1126.6" r="4.65"/>
<circle cx="231.7" cy="1127.3" r="4.65"/>
<circle cx="231.7" cy="1128.9" r="4.65"/>
<circle cx="231.7" cy="1130.4" r="4.65"/>
<circle cx="231.7" cy="1131.5" r="4.65"/>
<circle cx="231.7" cy="1132.4" r="4.65"/>
<circle cx="231.7" cy="1133.5" r="4.65"/>
<circle cx="231.7" cy="1134.8" r="4.65"/>
<circle cx="231.7" cy="1135.8" r="4.65"/>
<circle cx="231.7" cy="1136.8" r="4.65"/>
<circle cx="231.7" cy="1138.1" r="4.65"/>
<circle cx="231.7" cy="1140.0" r="4.65"/>
<circle cx="231.7" cy="1141.5" r="4.65"/>
<circle cx="231.7" cy="1142.5" r="4.65"/>
<circle cx="231.7" cy="1143.5" r="4.65"/>
<circle cx="231.7" cy="1144.8" r="4.65"/>
<circle cx="231.7" cy="1145.6" r="4.65"/>
<circle cx="231.7" cy="1146.5" r="4.65"/>
<circle cx="231.7" cy="1147.8" r="4.65"/>
<circle cx="231.7" cy="1148.5" r="4.65"/>
<circle cx="231.7" cy="1149.8" r="4.65"/>
<circle cx="231.7" cy="1150.9" r="4.65"/>
<circle cx="231.7" cy="1152.6" r="4.65"/>
<circle cx="231.7" cy="1154.4" r="4.65"/>
<circle cx="231.7" cy="1156.1" r="4.65"/>
<circle cx="231.7" cy="1157.7" r="4.65"/>
<circle cx="231.7" cy="1158.9" r="4.65"/>
<circle cx="231.7" cy="1160.5" r="4.65"/>
<circle cx="231.7" cy="1161.6" r="4.65"/>
<circle cx="231.7" cy="1163.1" r="4.65"/>
<circle cx="231.7" cy="1164.1" r="4.65"/>
<circle cx="231.7" cy="1165.4" r="4.65"/>
<circle cx="231.7" cy="1166.0" r="4.65"/>
<circle cx="231.7" cy="1166.9" r="4.65"/>
<circle cx="231.7" cy="1169.0" r="4.65"/>
<circle cx="231.7" cy="1169.9" r="4.65"/>
<circle cx="231.7" cy="1171.6" r="4.65"/>
<circle cx="231.7" cy="1173.2" r="4.65"/>
<circle cx="231.7" cy="1174.9" r="4.65"/>
<circle cx="231.7" cy="1176.2" r="4.65"/>
<circle cx="231.7" cy="1177.8" r="4.65"/>
<circle cx="231.7" cy="1178.4" r="4.65"/>
<circle cx="231.7" cy="1179.0" r="4.65"/>
<circle cx="231.7" cy="1179.8" r="4.65"/>
<circle cx="231.7" cy="1180.6" r="4.65"/>
<circle cx="231.7" cy="1181.3" r="4.65"/>
<circle cx="231.7" cy="1182.0" r="4.65"/>
<circle cx="231.7" cy="1183.4" r="4.65"/>
<circle cx="231.7" cy="1184.2" r="4.65"/>
<circle cx="231.7" cy="1189.3" r="4.65"/>
<circle cx="231.7" cy="1198.6" r="4.65"/>
<circle cx="231.7" cy="1213.0" r="4.65"/>
</g>
<g fill="#ff7f0e" clip-path="url(#c3)">
<circle cx="803.2" cy="1064.5" r="4.65"/>
<circle cx="793.5" cy="1066.5" r="4.65"/>
<circle cx="796.0" cy="1066.4" r="4.65"/>
<circle cx="799.5" cy="1067.0" r="4.65"/>
<circle cx="801.9" cy="1065.6" r="4.65"/>
<circle cx="804.0" cy="1066.0" r="4.65"/>
<circle cx="791.6" cy="1068.2" r="4.65"/>
<circle cx="795.1" cy="1068.1" r="4.65"/>
<circle cx="797.9" cy="1069.2" r="4.65"/>
<circle cx="799.7" cy="1068.2" r="4.65"/>
<circle cx="801.7" cy="1068.4" r="4.65"/>
<circle cx="804.4" cy="1068.7" r="4.65"/>
<circle cx="790.9" cy="1071.3" r="4.65"/>
<circle cx="793.5" cy="1070.4" r="4.65"/>
<circle cx="796.7" cy="1070.2" r="4.65"/>
<circle cx="798.3" cy="1070.8" r="4.65"/>
<circle cx="801.9" cy="1070.1" r="4.65"/>
<circle cx="803.6" cy="1070.8" r="4.65"/>
<circle cx="789.5" cy="1073.7" r="4.65"/>
<circle cx="792.7" cy="1073.3" r="4.65"/>
<circle cx="795.0" cy="1073.6" r="4.65"/>
<circle cx="797.0" cy="1072.9" r="4.65"/>
<circle cx="800.2" cy="1073.6" r="4.65"/>
<circle cx="789.1" cy="1074.7" r="4.65"/>
<circle cx="791.3" cy="1076.2" r="4.65"/>
<circle cx="794.4" cy="1075.0" r="4.65"/>
<circle cx="796.3" cy="1076.1" r="4.65"/>
<circle cx="787.0" cy="1077.4" r="4.65"/>
<circle cx="790.1" cy="1076.8" r="4.65"/>
<circle cx="792.9" cy="1077.9" r="4.65"/>
<circle cx="794.7" cy="1077.9" r="4.65"/>
<circle cx="785.2" cy="1079.8" r="4.65"/>
<circle cx="787.6" cy="1080.5" r="4.65"/>
<circle cx="790.8" cy="1080.7" r="4.65"/>
<circle cx="793.8" cy="1079.3" r="4.65"/>
<circle cx="782.6" cy="1081.6" r="4.65"/>
<circle cx="784.9" cy="1082.8" r="4.65"/>
<circle cx="786.4" cy="1082.0" r="4.65"/>
<circle cx="790.0" cy="1081.9" r="4.65"/>
<circle cx="791.5" cy="1082.6" r="4.65"/>
<circle cx="777.3" cy="1084.2" r="4.65"/>
<circle cx="780.0" cy="1083.8" r="4.65"/>
<circle cx="782.7" cy="1085.1" r="4.65"/>
<circle cx="786.3" cy="1084.9" r="4.65"/>
<circle cx="789.1" cy="1083.7" r="4.65"/>
<circle cx="790.4" cy="1083.5" r="4.65"/>
<circle cx="776.6" cy="1086.8" r="4.65"/>
<circle cx="779.8" cy="1086.1" r="4.65"/>
<circle cx="781.7" cy="1086.9" r="4.65"/>
<circle cx="784.7" cy="1085.8" r="4.65"/>
<circle cx="787.7" cy="1085.9" r="4.65"/>
<circle cx="764.9" cy="1089.7" r="4.65"/>
<circle cx="766.7" cy="1089.1" r="4.65"/>
<circle cx="775.2" cy="1088.4" r="4.65"/>
<circle cx="778.3" cy="1089.6" r="4.65"/>
<circle cx="781.0" cy="1088.4" r="4.65"/>
<circle cx="783.6" cy="1089.4" r="4.65"/>
<circle cx="763.3" cy="1090.8" r="4.65"/>
<circle cx="766.4" cy="1090.3" r="4.65"/>
<circle cx="768.4" cy="1091.6" r="4.65"/>
<circle cx="771.9" cy="1091.7" r="4.65"/>
<circle cx="774.1" cy="1091.6" r="4.65"/>
<circle cx="776.5" cy="1090.8" r="4.65"/>
<circle cx="779.8" cy="1091.0" r="4.65"/>
<circle cx="781.1" cy="1092.0" r="4.65"/>
<circle cx="759.6" cy="1092.8" r="4.65"/>
<circle cx="763.1" cy="1093.0" r="4.65"/>
<circle cx="764.6" cy="1093.7" r="4.65"/>
<circle cx="767.9" cy="1093.3" r="4.65"/>
<circle cx="769.4" cy="1093.2" r="4.65"/>
<circle cx="773.3" cy="1093.0" r="4.65"/>
<circle cx="775.1" cy="1093.0" r="4.65"/>
<circle cx="777.7" cy="1093.1" r="4.65"/>
<circle cx="780.5" cy="1094.0" r="4.65"/>
<circle cx="757.7" cy="1095.8" r="4.65"/>
<circle cx="761.5" cy="1096.5" r="4.65"/>
<circle cx="763.1" cy="1095.5" r="4.65"/>
<circle cx="766.2" cy="1095.6" r="4.65"/>
<circle cx="768.3" cy="1095.4" r="4.65"/>
<circle cx="770.7" cy="1095.8" r="4.65"/>
<circle cx="774.9" cy="1095.0" r="4.65"/>
<circle cx="777.0" cy="1095.7" r="4.65"/>
<circle cx="778.9" cy="1095.4" r="4.65"/>
<circle cx="749.5" cy="1097.9" r="4.65"/>
<circle cx="751.8" cy="1098.4" r="4.65"/>
<circle cx="759.5" cy="1097.2" r="4.65"/>
<circle cx="762.6" cy="1098.6" r="4.65"/>
<circle cx="765.3" cy="1097.8" r="4.65"/>
<circle cx="768.1" cy="1098.3" r="4.65"/>
<circle cx="770.1" cy="1098.1" r="4.65"/>
<circle cx="772.1" cy="1097.1" r="4.65"/>
<circle cx="747.6" cy="1100.4" r="4.65"/>
<circle cx="749.9" cy="1099.9" r="4.65"/>
<circle cx="752.8" cy="1101.0" r="4.65"/>
<circle cx="755.9" cy="1100.0" r="4.65"/>
<circle cx="758.0" cy="1100.2" r="4.65"/>
<circle cx="761.1" cy="1100.8" r="4.65"/>
<circle cx="763.6" cy="1101.0" r="4.65"/>
<circle cx="765.4" cy="1100.4" r="4.65"/>
<circle cx="768.7" cy="1099.8" r="4.65"/>
<circle cx="771.4" cy="1101.1" r="4.65"/>
<circle cx="746.7" cy="1102.0" r="4.65"/>
<circle cx="749.4" cy="1103.3" r="4.65"/>
<circle cx="752.0" cy="1102.3" r="4.65"/>
<circle cx="753.7" cy="1103.3" r="4.65"/>
<circle cx="756.2" cy="1101.6" r="4.65"/>
<circle cx="759.4" cy="1103.2" r="4.65"/>
<circle cx="762.0" cy="1103.2" r="4.65"/>
<circle cx="765.6" cy="1102.2" r="4.65"/>
<circle cx="767.6" cy="1102.2" r="4.65"/>
<circle cx="770.8" cy="1102.8" r="4.65"/>
<circle cx="740.6" cy="1104.1" r="4.65"/>
<circle cx="743.1" cy="1105.3" r="4.65"/>
<circle cx="744.8" cy="1105.6" r="4.65"/>
<circle cx="747.7" cy="1104.1" r="4.65"/>
<circle cx="750.8" cy="1103.9" r="4.65"/>
<circle cx="753.4" cy="1104.6" r="4.65"/>
<circle cx="756.6" cy="1104.3" r="4.65"/>
<circle cx="758.4" cy="1103.9" r="4.65"/>
<circle cx="760.9" cy="1105.0" r="4.65"/>
<circle cx="763.0" cy="1104.4" r="4.65"/>
<circle cx="766.6" cy="1104.6" r="4.65"/>
<circle cx="768.3" cy="1104.1" r="4.65"/>
<circle cx="739.1" cy="1107.1" r="4.65"/>
<circle cx="741.4" cy="1106.9" r="4.65"/>
<circle cx="744.6" cy="1106.5" r="4.65"/>
<circle cx="746.1" cy="1107.3" r="4.65"/>
<circle cx="749.0" cy="1106.5" r="4.65"/>
<circle cx="751.4" cy="1106.2" r="4.65"/>
<circle cx="754.3" cy="1107.3" r="4.65"/>
<circle cx="757.7" cy="1106.7" r="4.65"/>
<circle cx="758.9" cy="1106.5" r="4.65"/>
<circle cx="761.6" cy="1106.8" r="4.65"/>
<circle cx="764.1" cy="1107.4" r="4.65"/>
<circle cx="733.0" cy="1109.2" r="4.65"/>
<circle cx="735.0" cy="1108.4" r="4.65"/>
<circle cx="738.3" cy="1109.5" r="4.65"/>
<circle cx="740.0" cy="1108.5" r="4.65"/>
<circle cx="742.4" cy="1109.0" r="4.65"/>
<circle cx="745.6" cy="1109.8" r="4.65"/>
<circle cx="747.8" cy="1108.9" r="4.65"/>
<circle cx="749.8" cy="1109.9" r="4.65"/>
<circle cx="752.7" cy="1109.8" r="4.65"/>
<circle cx="756.2" cy="1109.0" r="4.65"/>
<circle cx="757.9" cy="1108.6" r="4.65"/>
<circle cx="760.5" cy="1109.7" r="4.65"/>
<circle cx="764.4" cy="1109.5" r="4.65"/>
<circle cx="729.1" cy="1111.3" r="4.65"/>
<circle cx="730.7" cy="1111.6" r="4.65"/>
<circle cx="734.4" cy="1112.3" r="4.65"/>
<circle cx="737.1" cy="1111.3" r="4.65"/>
<circle cx="739.0" cy="1110.8" r="4.65"/>
<circle cx="741.4" cy="1112.0" r="4.65"/>
<circle cx="743.5" cy="1110.8" r="4.65"/>
<circle cx="746.4" cy="1110.9" r="4.65"/>
<circle cx="748.7" cy="1110.8" r="4.65"/>
<circle cx="751.7" cy="1110.9" r="4.65"/>
<circle cx="755.3" cy="1110.6" r="4.65"/>
<circle cx="756.3" cy="1111.1" r="4.65"/>
<circle cx="760.4" cy="1112.1" r="4.65"/>
<circle cx="761.9" cy="1110.7" r="4.65"/>
<circle cx="726.7" cy="1113.4" r="4.65"/>
<circle cx="730.5" cy="1113.6" r="4.65"/>
<circle cx="732.6" cy="1113.1" r="4.65"/>
<circle cx="735.2" cy="1114.6" r="4.65"/>
<circle cx="738.3" cy="1113.6" r="4.65"/>
<circle cx="739.8" cy="1113.9" r="4.65"/>
<circle cx="742.9" cy="1114.2" r="4.65"/>
<circle cx="744.6" cy="1114.1" r="4.65"/>
<circle cx="748.9" cy="1113.2" r="4.65"/>
<circle cx="750.5" cy="1113.7" r="4.65"/>
<circle cx="753.9" cy="1113.1" r="4.65"/>
<circle cx="754.9" cy="1113.5" r="4.65"/>
<circle cx="759.1" cy="1113.3" r="4.65"/>
<circle cx="760.4" cy="1114.2" r="4.65"/>
<circle cx="723.4" cy="1115.8" r="4.65"/>
<circle cx="726.3" cy="1115.7" r="4.65"/>
<circle cx="728.7" cy="1116.4" r="4.65"/>
<circle cx="730.3" cy="1116.2" r="4.65"/>
<circle cx="733.8" cy="1115.8" r="4.65"/>
<circle cx="735.7" cy="1115.3" r="4.65"/>
<circle cx="739.3" cy="1116.0" r="4.65"/>
<circle cx="742.2" cy="1115.6" r="4.65"/>
<circle cx="744.7" cy="1115.4" r="4.65"/>
<circle cx="746.3" cy="1115.3" r="4.65"/>
<circle cx="749.9" cy="1116.7" r="4.65"/>
<circle cx="751.8" cy="1115.7" r="4.65"/>
<circle cx="755.1" cy="1115.9" r="4.65"/>
<circle cx="756.5" cy="1116.1" r="4.65"/>
<circle cx="721.8" cy="1118.9" r="4.65"/>
<circle cx="724.2" cy="1117.6" r="4.65"/>
<circle cx="727.3" cy="1117.7" r="4.65"/>
<circle cx="729.2" cy="1119.2" r="4.65"/>
<circle cx="732.9" cy="1118.0" r="4.65"/>
<circle cx="734.8" cy="1118.3" r="4.65"/>
<circle cx="737.2" cy="1117.9" r="4.65"/>
<circle cx="739.7" cy="1117.8" r="4.65"/>
<circle cx="742.2" cy="1118.9" r="4.65"/>
<circle cx="745.9" cy="1119.2" r="4.65"/>
<circle cx="748.2" cy="1117.7" r="4.65"/>
<circle cx="750.6" cy="1119.0" r="4.65"/>
<circle cx="753.4" cy="1118.9" r="4.65"/>
<circle cx="755.3" cy="1117.6" r="4.65"/>
<circle cx="720.6" cy="1119.7" r="4.65"/>
<circle cx="723.2" cy="1121.1" r="4.65"/>
<circle cx="726.6" cy="1121.1" r="4.65"/>
<circle cx="728.2" cy="1120.8" r="4.65"/>
<circle cx="730.9" cy="1120.5" r="4.65"/>
<circle cx="734.5" cy="1120.6" r="4.65"/>
<circle cx="736.6" cy="1120.5" r="4.65"/>
<circle cx="739.1" cy="1120.7" r="4.65"/>
<circle cx="740.7" cy="1120.1" r="4.65"/>
<circle cx="744.5" cy="1120.6" r="4.65"/>
<circle cx="747.2" cy="1119.9" r="4.65"/>
<circle cx="748.5" cy="1120.9" r="4.65"/>
<circle cx="752.1" cy="1120.8" r="4.65"/>
<circle cx="722.2" cy="1123.2" r="4.65"/>
<circle cx="725.0" cy="1123.0" r="4.65"/>
<circle cx="726.4" cy="1123.2" r="4.65"/>
<circle cx="729.3" cy="1122.0" r="4.65"/>
<circle cx="732.3" cy="1123.3" r="4.65"/>
<circle cx="734.8" cy="1122.6" r="4.65"/>
<circle cx="738.0" cy="1122.8" r="4.65"/>
<circle cx="740.2" cy="1123.6" r="4.65"/>
<circle cx="742.5" cy="1123.0" r="4.65"/>
<circle cx="744.8" cy="1123.3" r="4.65"/>
<circle cx="747.8" cy="1123.2" r="4.65"/>
<circle cx="750.8" cy="1123.5" r="4.65"/>
<circle cx="752.5" cy="1122.1" r="4.65"/>
<circle cx="721.6" cy="1125.3" r="4.65"/>
<circle cx="723.8" cy="1124.3" r="4.65"/>
<circle cx="726.4" cy="1125.6" r="4.65"/>
<circle cx="728.4" cy="1124.5" r="4.65"/>
<circle cx="730.4" cy="1124.7" r="4.65"/>
<circle cx="734.1" cy="1125.1" r="4.65"/>
<circle cx="736.4" cy="1125.8" r="4.65"/>
<circle cx="739.4" cy="1125.2" r="4.65"/>
<circle cx="740.6" cy="1124.3" r="4.65"/>
<circle cx="744.3" cy="1124.5" r="4.65"/>
<circle cx="746.8" cy="1125.2" r="4.65"/>
<circle cx="720.1" cy="1126.6" r="4.65"/>
<circle cx="721.7" cy="1127.3" r="4.65"/>
<circle cx="725.1" cy="1127.2" r="4.65"/>
<circle cx="727.2" cy="1126.5" r="4.65"/>
<circle cx="729.2" cy="1127.1" r="4.65"/>
<circle cx="732.4" cy="1128.2" r="4.65"/>
<circle cx="734.7" cy="1127.8" r="4.65"/>
<circle cx="736.7" cy="1127.4" r="4.65"/>
<circle cx="740.7" cy="1127.0" r="4.65"/>
<circle cx="742.3" cy="1126.8" r="4.65"/>
<circle cx="745.4" cy="1127.5" r="4.65"/>
<circle cx="720.5" cy="1129.1" r="4.65"/>
<circle cx="724.0" cy="1129.2" r="4.65"/>
<circle cx="726.8" cy="1128.7" r="4.65"/>
<circle cx="729.4" cy="1129.2" r="4.65"/>
<circle cx="730.6" cy="1128.8" r="4.65"/>
<circle cx="734.2" cy="1129.5" r="4.65"/>
<circle cx="736.4" cy="1129.4" r="4.65"/>
<circle cx="739.6" cy="1129.8" r="4.65"/>
<circle cx="742.1" cy="1129.3" r="4.65"/>
<circle cx="744.6" cy="1128.9" r="4.65"/>
<circle cx="722.8" cy="1131.8" r="4.65"/>
<circle cx="725.1" cy="1131.9" r="4.65"/>
<circle cx="726.5" cy="1132.2" r="4.65"/>
<circle cx="730.1" cy="1132.7" r="4.65"/>
<circle cx="731.8" cy="1131.1" r="4.65"/>
<circle cx="735.8" cy="1131.5" r="4.65"/>
<circle cx="737.3" cy="1131.1" r="4.65"/>
<circle cx="739.9" cy="1131.4" r="4.65"/>
<circle cx="742.5" cy="1132.0" r="4.65"/>
<circle cx="724.1" cy="1133.7" r="4.65"/>
<circle cx="726.5" cy="1133.4" r="4.65"/>
<circle cx="728.7" cy="1133.5" r="4.65"/>
<circle cx="730.8" cy="1134.9" r="4.65"/>
<circle cx="733.8" cy="1134.0" r="4.65"/>
<circle cx="735.6" cy="1133.6" r="4.65"/>
<circle cx="739.6" cy="1133.3" r="4.65"/>
<circle cx="724.9" cy="1136.7" r="4.65"/>
<circle cx="727.6" cy="1136.5" r="4.65"/>
<circle cx="729.3" cy="1137.1" r="4.65"/>
<circle cx="732.2" cy="1136.8" r="4.65"/>
<circle cx="735.4" cy="1136.7" r="4.65"/>
<circle cx="725.8" cy="1138.8" r="4.65"/>
<circle cx="727.6" cy="1138.7" r="4.65"/>
<circle cx="730.4" cy="1139.0" r="4.65"/>
<circle cx="732.9" cy="1138.0" r="4.65"/>
<circle cx="724.4" cy="1140.4" r="4.65"/>
<circle cx="726.6" cy="1140.9" r="4.65"/>
<circle cx="730.0" cy="1141.3" r="4.65"/>
<circle cx="733.0" cy="1140.5" r="4.65"/>
<circle cx="726.8" cy="1142.8" r="4.65"/>
<circle cx="729.4" cy="1143.5" r="4.65"/>
<circle cx="731.2" cy="1142.5" r="4.65"/>
<circle cx="726.9" cy="1145.4" r="4.65"/>
<circle cx="710.9" cy="1114.5" r="4.65"/>
<circle cx="726.2" cy="1103.1" r="4.65"/>
<circle cx="712.0" cy="1134.3" r="4.65"/>
<circle cx="719.0" cy="1145.4" r="4.65"/>
<circle cx="726.7" cy="1146.8" r="4.65"/>
<circle cx="814.2" cy="1052.0" r="4.65"/>
<circle cx="813.4" cy="1057.2" r="4.65"/>
<circle cx="799.6" cy="1055.7" r="4.65"/>
<circle cx="791.8" cy="1066.0" r="4.65"/>
<circle cx="790.7" cy="1071.1" r="4.65"/>
<circle cx="763.5" cy="1077.0" r="4.65"/>
<circle cx="769.0" cy="1076.7" r="4.65"/>
<circle cx="770.1" cy="1081.4" r="4.65"/>
<circle cx="773.0" cy="1086.6" r="4.65"/>
<circle cx="763.1" cy="1090.2" r="4.65"/>
<circle cx="749.1" cy="1096.5" r="4.65"/>
<circle cx="745.5" cy="1102.7" r="4.65"/>
<circle cx="782.2" cy="1081.4" r="4.65"/>
<circle cx="786.3" cy="1089.5" r="4.65"/>
<circle cx="792.9" cy="1081.4" r="4.65"/>
<circle cx="801.7" cy="1072.6" r="4.65"/>
<circle cx="806.1" cy="1065.3" r="4.65"/>
<circle cx="773.8" cy="1102.7" r="4.65"/>
<circle cx="767.1" cy="1108.6" r="4.65"/>
<circle cx="756.1" cy="1118.9" r="4.65"/>
<circle cx="749.5" cy="1125.5" r="4.65"/>
<circle cx="744.4" cy="1129.9" r="4.65"/>
<circle cx="732.6" cy="1140.2" r="4.65"/>
<circle cx="720.1" cy="1118.2" r="4.65"/>
<circle cx="719.4" cy="1124.8" r="4.65"/>
<circle cx="723.1" cy="1116.0" r="4.65"/>
<circle cx="716.5" cy="1140.0" r="4.65"/>
<circle cx="723.0" cy="1146.5" r="4.65"/>
</g>
<path d="M173 1702 L940 934" stroke="#000" stroke-width="3.4" stroke-dasharray="11.56 5" fill="none" clip-path="url(#c3)"/>
<path d="M173 973.30 L940 973.30" stroke="#000" stroke-width="3.4" stroke-dasharray="11.56 5" fill="none" clip-path="url(#c3)"/>
<g fill="#1f77b4" clip-path="url(#c4)">
<circle cx="1278.8" cy="973.0" r="4.65"/>
<circle cx="1278.8" cy="1092.1" r="4.65"/>
<circle cx="1278.8" cy="1107.4" r="4.65"/>
<circle cx="1278.8" cy="1112.2" r="4.65"/>
<circle cx="1278.8" cy="1116.3" r="4.65"/>
<circle cx="1278.8" cy="1123.7" r="4.65"/>
<circle cx="1278.8" cy="1124.6" r="4.65"/>
<circle cx="1278.8" cy="1126.8" r="4.65"/>
<circle cx="1278.8" cy="1127.7" r="4.65"/>
<circle cx="1278.8" cy="1129.9" r="4.65"/>
<circle cx="1278.8" cy="1131.3" r="4.65"/>
<circle cx="1278.8" cy="1133.0" r="4.65"/>
<circle cx="1278.8" cy="1135.0" r="4.65"/>
<circle cx="1278.8" cy="1136.4" r="4.65"/>
<circle cx="1278.8" cy="1137.5" r="4.65"/>
<circle cx="1278.8" cy="1138.4" r="4.65"/>
<circle cx="1278.8" cy="1139.0" r="4.65"/>
<circle cx="1278.8" cy="1140.9" r="4.65"/>
<circle cx="1278.8" cy="1142.3" r="4.65"/>
<circle cx="1278.8" cy="1143.1" r="4.65"/>
<circle cx="1278.8" cy="1145.2" r="4.65"/>
<circle cx="1278.8" cy="1146.3" r="4.65"/>
<circle cx="1278.8" cy="1147.5" r="4.65"/>
<circle cx="1278.8" cy="1148.6" r="4.65"/>
<circle cx="1278.8" cy="1150.3" r="4.65"/>
<circle cx="1278.8" cy="1151.9" r="4.65"/>
<circle cx="1278.8" cy="1153.5" r="4.65"/>
<circle cx="1278.8" cy="1154.5" r="4.65"/>
<circle cx="1278.8" cy="1155.6" r="4.65"/>
<circle cx="1278.8" cy="1156.6" r="4.65"/>
<circle cx="1278.8" cy="1157.7" r="4.65"/>
<circle cx="1278.8" cy="1158.5" r="4.65"/>
<circle cx="1278.8" cy="1159.3" r="4.65"/>
<circle cx="1278.8" cy="1161.6" r="4.65"/>
<circle cx="1278.8" cy="1163.9" r="4.65"/>
<circle cx="1278.8" cy="1164.8" r="4.65"/>
<circle cx="1278.8" cy="1165.3" r="4.65"/>
<circle cx="1278.8" cy="1166.2" r="4.65"/>
<circle cx="1278.8" cy="1168.1" r="4.65"/>
<circle cx="1278.8" cy="1170.0" r="4.65"/>
<circle cx="1278.8" cy="1170.6" r="4.65"/>
<circle cx="1278.8" cy="1172.2" r="4.65"/>
<circle cx="1278.8" cy="1172.7" r="4.65"/>
<circle cx="1278.8" cy="1174.2" r="4.65"/>
<circle cx="1278.8" cy="1175.9" r="4.65"/>
<circle cx="1278.8" cy="1178.2" r="4.65"/>
<circle cx="1278.8" cy="1179.2" r="4.65"/>
<circle cx="1278.8" cy="1181.3" r="4.65"/>
<circle cx="1278.8" cy="1183.4" r="4.65"/>
<circle cx="1278.8" cy="1185.7" r="4.65"/>
<circle cx="1278.8" cy="1186.2" r="4.65"/>
<circle cx="1278.8" cy="1187.6" r="4.65"/>
<circle cx="1278.8" cy="1189.9" r="4.65"/>
<circle cx="1278.8" cy="1191.2" r="4.65"/>
<circle cx="1278.8" cy="1193.2" r="4.65"/>
<circle cx="1278.8" cy="1194.8" r="4.65"/>
<circle cx="1278.8" cy="1196.7" r="4.65"/>
<circle cx="1278.8" cy="1198.2" r="4.65"/>
<circle cx="1278.8" cy="1198.7" r="4.65"/>
<circle cx="1278.8" cy="1199.4" r="4.65"/>
<circle cx="1278.8" cy="1200.1" r="4.65"/>
<circle cx="1278.8" cy="1201.1" r="4.65"/>
<circle cx="1278.8" cy="1203.4" r="4.65"/>
<circle cx="1278.8" cy="1205.1" r="4.65"/>
<circle cx="1278.8" cy="1207.2" r="4.65"/>
<circle cx="1278.8" cy="1208.7" r="4.65"/>
<circle cx="1278.8" cy="1210.4" r="4.65"/>
<circle cx="1278.8" cy="1212.5" r="4.65"/>
<circle cx="1278.8" cy="1214.7" r="4.65"/>
<circle cx="1278.8" cy="1217.0" r="4.65"/>
<circle cx="1278.8" cy="1219.0" r="4.65"/>
<circle cx="1278.8" cy="1219.7" r="4.65"/>
<circle cx="1278.8" cy="1220.9" r="4.65"/>
<circle cx="1278.8" cy="1221.5" r="4.65"/>
<circle cx="1278.8" cy="1223.0" r="4.65"/>
<circle cx="1278.8" cy="1225.0" r="4.65"/>
<circle cx="1278.8" cy="1225.6" r="4.65"/>
<circle cx="1278.8" cy="1226.5" r="4.65"/>
<circle cx="1278.8" cy="1227.7" r="4.65"/>
<circle cx="1278.8" cy="1228.6" r="4.65"/>
<circle cx="1278.8" cy="1230.7" r="4.65"/>
<circle cx="1278.8" cy="1231.8" r="4.65"/>
<circle cx="1278.8" cy="1233.5" r="4.65"/>
<circle cx="1278.8" cy="1235.0" r="4.65"/>
<circle cx="1278.8" cy="1236.6" r="4.65"/>
<circle cx="1278.8" cy="1238.9" r="4.65"/>
<circle cx="1278.8" cy="1241.2" r="4.65"/>
<circle cx="1278.8" cy="1241.9" r="4.65"/>
<circle cx="1278.8" cy="1244.0" r="4.65"/>
<circle cx="1278.8" cy="1245.1" r="4.65"/>
<circle cx="1278.8" cy="1245.8" r="4.65"/>
<circle cx="1278.8" cy="1247.1" r="4.65"/>
<circle cx="1278.8" cy="1248.5" r="4.65"/>
<circle cx="1278.8" cy="1250.8" r="4.65"/>
<circle cx="1278.8" cy="1252.1" r="4.65"/>
<circle cx="1278.8" cy="1252.6" r="4.65"/>
<circle cx="1278.8" cy="1254.7" r="4.65"/>
<circle cx="1278.8" cy="1255.4" r="4.65"/>
<circle cx="1278.8" cy="1256.8" r="4.65"/>
<circle cx="1278.8" cy="1258.9" r="4.65"/>
<circle cx="1278.8" cy="1260.4" r="4.65"/>
<circle cx="1278.8" cy="1261.8" r="4.65"/>
<circle cx="1278.8" cy="1263.8" r="4.65"/>
<circle cx="1278.8" cy="1264.3" r="4.65"/>
<circle cx="1278.8" cy="1265.9" r="4.65"/>
<circle cx="1278.8" cy="1267.2" r="4.65"/>
<circle cx="1278.8" cy="1267.4" r="4.65"/>
<circle cx="1278.8" cy="1283.0" r="4.65"/>
</g>
<g fill="#ff7f0e" clip-path="url(#c4)">
<circle cx="1803.1" cy="1108.2" r="4.65"/>
<circle cx="1801.3" cy="1111.1" r="4.65"/>
<circle cx="1803.3" cy="1111.7" r="4.65"/>
<circle cx="1800.6" cy="1114.0" r="4.65"/>
<circle cx="1803.4" cy="1112.7" r="4.65"/>
<circle cx="1798.1" cy="1116.2" r="4.65"/>
<circle cx="1801.7" cy="1116.2" r="4.65"/>
<circle cx="1803.2" cy="1115.7" r="4.65"/>
<circle cx="1794.9" cy="1118.2" r="4.65"/>
<circle cx="1796.7" cy="1118.9" r="4.65"/>
<circle cx="1799.8" cy="1119.2" r="4.65"/>
<circle cx="1802.7" cy="1119.1" r="4.65"/>
<circle cx="1793.3" cy="1120.7" r="4.65"/>
<circle cx="1795.4" cy="1121.0" r="4.65"/>
<circle cx="1799.0" cy="1121.1" r="4.65"/>
<circle cx="1800.5" cy="1120.0" r="4.65"/>
<circle cx="1765.4" cy="1123.9" r="4.65"/>
<circle cx="1769.4" cy="1124.0" r="4.65"/>
<circle cx="1792.3" cy="1122.6" r="4.65"/>
<circle cx="1795.0" cy="1123.1" r="4.65"/>
<circle cx="1797.0" cy="1123.7" r="4.65"/>
<circle cx="1764.7" cy="1125.4" r="4.65"/>
<circle cx="1768.4" cy="1125.5" r="4.65"/>
<circle cx="1769.8" cy="1125.3" r="4.65"/>
<circle cx="1774.0" cy="1126.4" r="4.65"/>
<circle cx="1776.3" cy="1126.5" r="4.65"/>
<circle cx="1789.9" cy="1125.9" r="4.65"/>
<circle cx="1793.2" cy="1126.1" r="4.65"/>
<circle cx="1795.6" cy="1124.9" r="4.65"/>
<circle cx="1757.5" cy="1129.0" r="4.65"/>
<circle cx="1761.0" cy="1127.8" r="4.65"/>
<circle cx="1762.9" cy="1127.3" r="4.65"/>
<circle cx="1765.6" cy="1128.4" r="4.65"/>
<circle cx="1769.1" cy="1129.0" r="4.65"/>
<circle cx="1771.8" cy="1128.8" r="4.65"/>
<circle cx="1774.8" cy="1127.3" r="4.65"/>
<circle cx="1776.7" cy="1127.6" r="4.65"/>
<circle cx="1789.3" cy="1127.8" r="4.65"/>
<circle cx="1791.9" cy="1127.8" r="4.65"/>
<circle cx="1756.4" cy="1130.0" r="4.65"/>
<circle cx="1759.1" cy="1130.7" r="4.65"/>
<circle cx="1761.4" cy="1130.0" r="4.65"/>
<circle cx="1765.1" cy="1129.8" r="4.65"/>
<circle cx="1768.2" cy="1130.1" r="4.65"/>
<circle cx="1769.9" cy="1129.7" r="4.65"/>
<circle cx="1772.8" cy="1129.7" r="4.65"/>
<circle cx="1775.6" cy="1130.4" r="4.65"/>
<circle cx="1779.6" cy="1130.3" r="4.65"/>
<circle cx="1780.8" cy="1131.5" r="4.65"/>
<circle cx="1790.4" cy="1130.8" r="4.65"/>
<circle cx="1754.2" cy="1133.9" r="4.65"/>
<circle cx="1757.4" cy="1132.5" r="4.65"/>
<circle cx="1760.2" cy="1132.5" r="4.65"/>
<circle cx="1763.8" cy="1133.4" r="4.65"/>
<circle cx="1765.6" cy="1133.0" r="4.65"/>
<circle cx="1768.2" cy="1133.0" r="4.65"/>
<circle cx="1771.8" cy="1132.9" r="4.65"/>
<circle cx="1775.4" cy="1132.3" r="4.65"/>
<circle cx="1776.7" cy="1133.0" r="4.65"/>
<circle cx="1780.8" cy="1132.6" r="4.65"/>
<circle cx="1782.8" cy="1133.1" r="4.65"/>
<circle cx="1785.4" cy="1133.9" r="4.65"/>
<circle cx="1748.0" cy="1135.7" r="4.65"/>
<circle cx="1750.1" cy="1135.5" r="4.65"/>
<circle cx="1753.6" cy="1135.7" r="4.65"/>
<circle cx="1757.1" cy="1135.8" r="4.65"/>
<circle cx="1760.1" cy="1135.9" r="4.65"/>
<circle cx="1761.8" cy="1135.3" r="4.65"/>
<circle cx="1764.8" cy="1135.0" r="4.65"/>
<circle cx="1767.1" cy="1135.8" r="4.65"/>
<circle cx="1770.3" cy="1135.8" r="4.65"/>
<circle cx="1772.4" cy="1135.6" r="4.65"/>
<circle cx="1775.8" cy="1135.0" r="4.65"/>
<circle cx="1778.4" cy="1135.4" r="4.65"/>
<circle cx="1781.1" cy="1135.3" r="4.65"/>
<circle cx="1785.2" cy="1134.6" r="4.65"/>
<circle cx="1744.5" cy="1138.4" r="4.65"/>
<circle cx="1747.0" cy="1137.4" r="4.65"/>
<circle cx="1748.6" cy="1137.7" r="4.65"/>
<circle cx="1751.9" cy="1137.5" r="4.65"/>
<circle cx="1754.2" cy="1137.3" r="4.65"/>
<circle cx="1758.2" cy="1138.6" r="4.65"/>
<circle cx="1761.3" cy="1137.6" r="4.65"/>
<circle cx="1763.1" cy="1138.8" r="4.65"/>
<circle cx="1767.0" cy="1137.3" r="4.65"/>
<circle cx="1768.5" cy="1138.0" r="4.65"/>
<circle cx="1770.9" cy="1137.6" r="4.65"/>
<circle cx="1774.6" cy="1138.5" r="4.65"/>
<circle cx="1776.6" cy="1138.4" r="4.65"/>
<circle cx="1780.1" cy="1138.1" r="4.65"/>
<circle cx="1783.1" cy="1137.6" r="4.65"/>
<circle cx="1742.6" cy="1139.8" r="4.65"/>
<circle cx="1745.6" cy="1140.7" r="4.65"/>
<circle cx="1747.6" cy="1140.7" r="4.65"/>
<circle cx="1750.9" cy="1140.7" r="4.65"/>
<circle cx="1753.7" cy="1139.5" r="4.65"/>
<circle cx="1757.1" cy="1140.9" r="4.65"/>
<circle cx="1758.8" cy="1139.8" r="4.65"/>
<circle cx="1761.4" cy="1140.8" r="4.65"/>
<circle cx="1765.5" cy="1140.9" r="4.65"/>
<circle cx="1767.8" cy="1140.1" r="4.65"/>
<circle cx="1771.3" cy="1140.6" r="4.65"/>
<circle cx="1773.2" cy="1140.6" r="4.65"/>
<circle cx="1776.6" cy="1140.6" r="4.65"/>
<circle cx="1779.5" cy="1139.7" r="4.65"/>
<circle cx="1781.2" cy="1139.4" r="4.65"/>
<circle cx="1743.9" cy="1143.5" r="4.65"/>
<circle cx="1747.1" cy="1143.4" r="4.65"/>
<circle cx="1748.6" cy="1142.6" r="4.65"/>
<circle cx="1752.8" cy="1142.3" r="4.65"/>
<circle cx="1754.5" cy="1143.1" r="4.65"/>
<circle cx="1758.4" cy="1142.1" r="4.65"/>
<circle cx="1761.4" cy="1142.8" r="4.65"/>
<circle cx="1764.0" cy="1142.8" r="4.65"/>
<circle cx="1766.7" cy="1142.2" r="4.65"/>
<circle cx="1768.4" cy="1143.5" r="4.65"/>
<circle cx="1771.1" cy="1142.5" r="4.65"/>
<circle cx="1774.6" cy="1142.7" r="4.65"/>
<circle cx="1778.3" cy="1142.8" r="4.65"/>
<circle cx="1741.6" cy="1145.2" r="4.65"/>
<circle cx="1746.0" cy="1145.2" r="4.65"/>
<circle cx="1747.3" cy="1144.6" r="4.65"/>
<circle cx="1750.4" cy="1145.2" r="4.65"/>
<circle cx="1754.3" cy="1144.5" r="4.65"/>
<circle cx="1757.0" cy="1145.4" r="4.65"/>
<circle cx="1759.6" cy="1144.4" r="4.65"/>
<circle cx="1762.3" cy="1145.0" r="4.65"/>
<circle cx="1765.1" cy="1144.3" r="4.65"/>
<circle cx="1767.4" cy="1144.6" r="4.65"/>
<circle cx="1770.9" cy="1146.0" r="4.65"/>
<circle cx="1774.1" cy="1145.4" r="4.65"/>
<circle cx="1775.5" cy="1145.4" r="4.65"/>
<circle cx="1743.4" cy="1147.2" r="4.65"/>
<circle cx="1746.3" cy="1147.9" r="4.65"/>
<circle cx="1750.3" cy="1147.5" r="4.65"/>
<circle cx="1752.6" cy="1148.3" r="4.65"/>
<circle cx="1755.7" cy="1148.1" r="4.65"/>
<circle cx="1757.7" cy="1147.8" r="4.65"/>
<circle cx="1760.6" cy="1147.2" r="4.65"/>
<circle cx="1764.2" cy="1147.7" r="4.65"/>
<circle cx="1765.4" cy="1148.2" r="4.65"/>
<circle cx="1769.7" cy="1147.6" r="4.65"/>
<circle cx="1772.5" cy="1146.8" r="4.65"/>
<circle cx="1774.6" cy="1147.4" r="4.65"/>
<circle cx="1742.3" cy="1151.0" r="4.65"/>
<circle cx="1744.4" cy="1149.5" r="4.65"/>
<circle cx="1748.7" cy="1150.4" r="4.65"/>
<circle cx="1750.6" cy="1149.9" r="4.65"/>
<circle cx="1753.7" cy="1149.3" r="4.65"/>
<circle cx="1757.3" cy="1150.1" r="4.65"/>
<circle cx="1759.6" cy="1149.8" r="4.65"/>
<circle cx="1761.1" cy="1149.5" r="4.65"/>
<circle cx="1764.9" cy="1150.4" r="4.65"/>
<circle cx="1768.3" cy="1149.2" r="4.65"/>
<circle cx="1770.1" cy="1150.9" r="4.65"/>
<circle cx="1743.3" cy="1153.4" r="4.65"/>
<circle cx="1745.9" cy="1153.2" r="4.65"/>
<circle cx="1749.5" cy="1151.7" r="4.65"/>
<circle cx="1752.4" cy="1152.5" r="4.65"/>
<circle cx="1754.9" cy="1151.8" r="4.65"/>
<circle cx="1758.6" cy="1153.0" r="4.65"/>
<circle cx="1759.8" cy="1151.9" r="4.65"/>
<circle cx="1763.1" cy="1151.9" r="4.65"/>
<circle cx="1767.0" cy="1152.8" r="4.65"/>
<circle cx="1742.1" cy="1155.2" r="4.65"/>
<circle cx="1745.6" cy="1155.1" r="4.65"/>
<circle cx="1747.8" cy="1154.8" r="4.65"/>
<circle cx="1750.2" cy="1155.6" r="4.65"/>
<circle cx="1753.4" cy="1154.8" r="4.65"/>
<circle cx="1756.2" cy="1155.6" r="4.65"/>
<circle cx="1759.0" cy="1154.8" r="4.65"/>
<circle cx="1761.6" cy="1155.5" r="4.65"/>
<circle cx="1765.7" cy="1154.9" r="4.65"/>
<circle cx="1741.5" cy="1157.6" r="4.65"/>
<circle cx="1743.8" cy="1158.1" r="4.65"/>
<circle cx="1746.1" cy="1156.9" r="4.65"/>
<circle cx="1748.8" cy="1157.2" r="4.65"/>
<circle cx="1752.1" cy="1157.3" r="4.65"/>
<circle cx="1755.0" cy="1156.7" r="4.65"/>
<circle cx="1758.1" cy="1157.5" r="4.65"/>
<circle cx="1759.9" cy="1156.7" r="4.65"/>
<circle cx="1763.9" cy="1157.9" r="4.65"/>
<circle cx="1736.9" cy="1160.6" r="4.65"/>
<circle cx="1740.2" cy="1160.1" r="4.65"/>
<circle cx="1741.6" cy="1159.7" r="4.65"/>
<circle cx="1744.6" cy="1159.8" r="4.65"/>
<circle cx="1748.3" cy="1159.9" r="4.65"/>
<circle cx="1751.2" cy="1159.1" r="4.65"/>
<circle cx="1753.1" cy="1159.9" r="4.65"/>
<circle cx="1755.6" cy="1159.1" r="4.65"/>
<circle cx="1759.2" cy="1160.5" r="4.65"/>
<circle cx="1735.7" cy="1161.6" r="4.65"/>
<circle cx="1738.8" cy="1161.6" r="4.65"/>
<circle cx="1741.2" cy="1162.3" r="4.65"/>
<circle cx="1743.4" cy="1161.4" r="4.65"/>
<circle cx="1745.9" cy="1162.7" r="4.65"/>
<circle cx="1749.8" cy="1163.0" r="4.65"/>
<circle cx="1753.1" cy="1161.4" r="4.65"/>
<circle cx="1755.8" cy="1163.0" r="4.65"/>
<circle cx="1757.0" cy="1162.1" r="4.65"/>
<circle cx="1733.8" cy="1163.9" r="4.65"/>
<circle cx="1736.3" cy="1165.2" r="4.65"/>
<circle cx="1739.1" cy="1165.0" r="4.65"/>
<circle cx="1741.8" cy="1164.9" r="4.65"/>
<circle cx="1745.1" cy="1164.4" r="4.65"/>
<circle cx="1747.5" cy="1164.4" r="4.65"/>
<circle cx="1750.0" cy="1164.0" r="4.65"/>
<circle cx="1754.5" cy="1165.1" r="4.65"/>
<circle cx="1755.6" cy="1164.9" r="4.65"/>
<circle cx="1733.1" cy="1167.0" r="4.65"/>
<circle cx="1734.9" cy="1167.4" r="4.65"/>
<circle cx="1739.0" cy="1167.2" r="4.65"/>
<circle cx="1741.7" cy="1167.5" r="4.65"/>
<circle cx="1744.6" cy="1167.6" r="4.65"/>
<circle cx="1746.3" cy="1168.0" r="4.65"/>
<circle cx="1749.8" cy="1166.7" r="4.65"/>
<circle cx="1753.0" cy="1167.5" r="4.65"/>
<circle cx="1754.3" cy="1166.5" r="4.65"/>
<circle cx="1732.0" cy="1170.2" r="4.65"/>
<circle cx="1733.6" cy="1169.6" r="4.65"/>
<circle cx="1736.8" cy="1169.0" r="4.65"/>
<circle cx="1738.9" cy="1168.8" r="4.65"/>
<circle cx="1743.0" cy="1170.2" r="4.65"/>
<circle cx="1745.1" cy="1168.8" r="4.65"/>
<circle cx="1747.4" cy="1170.1" r="4.65"/>
<circle cx="1750.9" cy="1169.2" r="4.65"/>
<circle cx="1730.4" cy="1171.4" r="4.65"/>
<circle cx="1732.0" cy="1172.8" r="4.65"/>
<circle cx="1734.9" cy="1171.3" r="4.65"/>
<circle cx="1738.4" cy="1172.1" r="4.65"/>
<circle cx="1741.4" cy="1172.6" r="4.65"/>
<circle cx="1743.6" cy="1171.6" r="4.65"/>
<circle cx="1747.1" cy="1172.5" r="4.65"/>
<circle cx="1725.4" cy="1174.4" r="4.65"/>
<circle cx="1728.8" cy="1174.4" r="4.65"/>
<circle cx="1731.0" cy="1175.1" r="4.65"/>
<circle cx="1733.9" cy="1174.0" r="4.65"/>
<circle cx="1736.7" cy="1174.9" r="4.65"/>
<circle cx="1739.2" cy="1174.2" r="4.65"/>
<circle cx="1741.6" cy="1174.2" r="4.65"/>
<circle cx="1745.1" cy="1175.1" r="4.65"/>
<circle cx="1723.7" cy="1177.5" r="4.65"/>
<circle cx="1726.8" cy="1176.6" r="4.65"/>
<circle cx="1729.9" cy="1176.2" r="4.65"/>
<circle cx="1732.2" cy="1177.5" r="4.65"/>
<circle cx="1736.3" cy="1177.6" r="4.65"/>
<circle cx="1739.1" cy="1177.3" r="4.65"/>
<circle cx="1741.6" cy="1176.2" r="4.65"/>
<circle cx="1743.6" cy="1176.4" r="4.65"/>
<circle cx="1722.1" cy="1178.7" r="4.65"/>
<circle cx="1725.8" cy="1179.9" r="4.65"/>
<circle cx="1729.0" cy="1178.6" r="4.65"/>
<circle cx="1731.3" cy="1178.6" r="4.65"/>
<circle cx="1734.2" cy="1180.0" r="4.65"/>
<circle cx="1736.2" cy="1179.0" r="4.65"/>
<circle cx="1739.1" cy="1180.0" r="4.65"/>
<circle cx="1741.8" cy="1179.8" r="4.65"/>
<circle cx="1720.9" cy="1181.3" r="4.65"/>
<circle cx="1724.9" cy="1182.0" r="4.65"/>
<circle cx="1727.5" cy="1180.9" r="4.65"/>
<circle cx="1730.5" cy="1182.0" r="4.65"/>
<circle cx="1733.1" cy="1181.2" r="4.65"/>
<circle cx="1735.1" cy="1181.8" r="4.65"/>
<circle cx="1738.9" cy="1181.7" r="4.65"/>
<circle cx="1719.8" cy="1183.5" r="4.65"/>
<circle cx="1723.5" cy="1184.1" r="4.65"/>
<circle cx="1725.6" cy="1183.9" r="4.65"/>
<circle cx="1729.3" cy="1183.7" r="4.65"/>
<circle cx="1731.7" cy="1183.4" r="4.65"/>
<circle cx="1734.5" cy="1183.5" r="4.65"/>
<circle cx="1736.2" cy="1183.9" r="4.65"/>
<circle cx="1721.3" cy="1186.0" r="4.65"/>
<circle cx="1724.5" cy="1186.4" r="4.65"/>
<circle cx="1727.7" cy="1186.7" r="4.65"/>
<circle cx="1729.5" cy="1186.9" r="4.65"/>
<circle cx="1732.2" cy="1187.5" r="4.65"/>
<circle cx="1720.5" cy="1189.7" r="4.65"/>
<circle cx="1722.5" cy="1189.2" r="4.65"/>
<circle cx="1724.8" cy="1188.4" r="4.65"/>
<circle cx="1729.3" cy="1188.9" r="4.65"/>
<circle cx="1731.0" cy="1188.7" r="4.65"/>
<circle cx="1719.4" cy="1192.0" r="4.65"/>
<circle cx="1720.8" cy="1191.4" r="4.65"/>
<circle cx="1724.8" cy="1192.3" r="4.65"/>
<circle cx="1727.0" cy="1191.3" r="4.65"/>
<circle cx="1729.2" cy="1191.3" r="4.65"/>
<circle cx="1717.9" cy="1193.4" r="4.65"/>
<circle cx="1719.6" cy="1193.6" r="4.65"/>
<circle cx="1723.1" cy="1193.5" r="4.65"/>
<circle cx="1725.6" cy="1194.4" r="4.65"/>
<circle cx="1727.8" cy="1193.2" r="4.65"/>
<circle cx="1719.3" cy="1195.6" r="4.65"/>
<circle cx="1721.5" cy="1196.7" r="4.65"/>
<circle cx="1723.4" cy="1195.7" r="4.65"/>
<circle cx="1714.7" cy="1199.3" r="4.65"/>
<circle cx="1717.5" cy="1198.0" r="4.65"/>
<circle cx="1719.2" cy="1198.9" r="4.65"/>
<circle cx="1716.0" cy="1200.6" r="4.65"/>
<circle cx="1869.4" cy="1052.2" r="4.65"/>
<circle cx="1796.7" cy="1064.2" r="4.65"/>
<circle cx="1833.5" cy="1066.5" r="4.65"/>
<circle cx="1837.2" cy="1074.0" r="4.65"/>
<circle cx="1841.3" cy="1072.9" r="4.65"/>
<circle cx="1803.4" cy="1106.2" r="4.65"/>
<circle cx="1799.6" cy="1111.1" r="4.65"/>
<circle cx="1797.8" cy="1115.1" r="4.65"/>
<circle cx="1790.9" cy="1122.7" r="4.65"/>
<circle cx="1798.4" cy="1122.7" r="4.65"/>
<circle cx="1794.4" cy="1126.1" r="4.65"/>
<circle cx="1759.0" cy="1118.0" r="4.65"/>
<circle cx="1766.6" cy="1120.9" r="4.65"/>
<circle cx="1774.1" cy="1123.8" r="4.65"/>
<circle cx="1749.2" cy="1123.2" r="4.65"/>
<circle cx="1762.5" cy="1126.7" r="4.65"/>
<circle cx="1779.9" cy="1129.6" r="4.65"/>
<circle cx="1743.4" cy="1136.0" r="4.65"/>
<circle cx="1754.4" cy="1134.3" r="4.65"/>
<circle cx="1741.7" cy="1141.8" r="4.65"/>
<circle cx="1733.0" cy="1147.6" r="4.65"/>
<circle cx="1717.9" cy="1152.2" r="4.65"/>
<circle cx="1714.7" cy="1157.4" r="4.65"/>
<circle cx="1699.4" cy="1171.9" r="4.65"/>
<circle cx="1718.5" cy="1171.3" r="4.65"/>
<circle cx="1709.2" cy="1184.1" r="4.65"/>
<circle cx="1694.4" cy="1190.8" r="4.65"/>
<circle cx="1702.9" cy="1193.3" r="4.65"/>
<circle cx="1707.5" cy="1196.8" r="4.65"/>
<circle cx="1717.3" cy="1191.0" r="4.65"/>
<circle cx="1698.2" cy="1200.9" r="4.65"/>
<circle cx="1698.8" cy="1204.9" r="4.65"/>
<circle cx="1709.8" cy="1207.2" r="4.65"/>
<circle cx="1693.6" cy="1211.9" r="4.65"/>
<circle cx="1682.0" cy="1228.7" r="4.65"/>
<circle cx="1686.1" cy="1232.1" r="4.65"/>
<circle cx="1720.2" cy="1179.4" r="4.65"/>
<circle cx="1724.9" cy="1174.8" r="4.65"/>
<circle cx="1730.7" cy="1168.4" r="4.65"/>
<circle cx="1734.1" cy="1163.8" r="4.65"/>
<circle cx="1739.9" cy="1158.6" r="4.65"/>
<circle cx="1741.1" cy="1150.5" r="4.65"/>
<circle cx="1713.3" cy="1196.8" r="4.65"/>
<circle cx="1715.6" cy="1203.8" r="4.65"/>
<circle cx="1722.6" cy="1196.8" r="4.65"/>
</g>
<path d="M1220 1702 L1988 934" stroke="#000" stroke-width="3.4" stroke-dasharray="11.56 5" fill="none" clip-path="url(#c4)"/>
<path d="M1220 973.10 L1988 973.10" stroke="#000" stroke-width="3.4" stroke-dasharray="11.56 5" fill="none" clip-path="url(#c4)"/>
<rect x="91" y="46" width="931" height="767" fill="none" stroke="#000" stroke-width="1.8"/>
<rect x="1139" y="46" width="930" height="767" fill="none" stroke="#000" stroke-width="1.8"/>
<rect x="173" y="934" width="767" height="768" fill="none" stroke="#000" stroke-width="1.8"/>
<rect x="1220" y="934" width="768" height="768" fill="none" stroke="#000" stroke-width="1.8"/>
<line x1="133.20" y1="813" x2="133.20" y2="820.2" stroke="#000" stroke-width="1.7"/>
<text x="133.20" y="845.00" font-size="20.83" text-anchor="middle" >0</text>
<line x1="302.82" y1="813" x2="302.82" y2="820.2" stroke="#000" stroke-width="1.7"/>
<text x="302.82" y="845.00" font-size="20.83" text-anchor="middle" >100</text>
<line x1="472.44" y1="813" x2="472.44" y2="820.2" stroke="#000" stroke-width="1.7"/>
<text x="472.44" y="845.00" font-size="20.83" text-anchor="middle" >200</text>
<line x1="642.06" y1="813" x2="642.06" y2="820.2" stroke="#000" stroke-width="1.7"/>
<text x="642.06" y="845.00" font-size="20.83" text-anchor="middle" >300</text>
<line x1="811.68" y1="813" x2="811.68" y2="820.2" stroke="#000" stroke-width="1.7"/>
<text x="811.68" y="845.00" font-size="20.83" text-anchor="middle" >400</text>
<line x1="981.30" y1="813" x2="981.30" y2="820.2" stroke="#000" stroke-width="1.7"/>
<text x="981.30" y="845.00" font-size="20.83" text-anchor="middle" >500</text>
<line x1="1181.20" y1="813" x2="1181.20" y2="820.2" stroke="#000" stroke-width="1.7"/>
<text x="1181.20" y="845.00" font-size="20.83" text-anchor="middle" >0</text>
<line x1="1350.70" y1="813" x2="1350.70" y2="820.2" stroke="#000" stroke-width="1.7"/>
<text x="1350.70" y="845.00" font-size="20.83" text-anchor="middle" >100</text>
<line x1="1520.20" y1="813" x2="1520.20" y2="820.2" stroke="#000" stroke-width="1.7"/>
<text x="1520.20" y="845.00" font-size="20.83" text-anchor="middle" >200</text>
<line x1="1689.70" y1="813" x2="1689.70" y2="820.2" stroke="#000" stroke-width="1.7"/>
<text x="1689.70" y="845.00" font-size="20.83" text-anchor="middle" >300</text>
<line x1="1859.20" y1="813" x2="1859.20" y2="820.2" stroke="#000" stroke-width="1.7"/>
<text x="1859.20" y="845.00" font-size="20.83" text-anchor="middle" >400</text>
<line x1="2028.70" y1="813" x2="2028.70" y2="820.2" stroke="#000" stroke-width="1.7"/>
<text x="2028.70" y="845.00" font-size="20.83" text-anchor="middle" >500</text>
<line x1="83.8" y1="658.30" x2="91" y2="658.30" stroke="#000" stroke-width="1.7"/>
<text x="75.70" y="667.70" font-size="20.83" text-anchor="end" letter-spacing="-0.3">0.0</text>
<line x1="83.8" y1="491.40" x2="91" y2="491.40" stroke="#000" stroke-width="1.7"/>
<text x="75.70" y="500.80" font-size="20.83" text-anchor="end" letter-spacing="-0.3">0.2</text>
<line x1="83.8" y1="324.50" x2="91" y2="324.50" stroke="#000" stroke-width="1.7"/>
<text x="75.70" y="333.90" font-size="20.83" text-anchor="end" letter-spacing="-0.3">0.4</text>
<line x1="83.8" y1="157.60" x2="91" y2="157.60" stroke="#000" stroke-width="1.7"/>
<text x="75.70" y="167.00" font-size="20.83" text-anchor="end" letter-spacing="-0.3">0.6</text>
<line x1="1131.8" y1="144.60" x2="1139" y2="144.60" stroke="#000" stroke-width="1.7"/>
<text x="1123.70" y="154.00" font-size="20.83" text-anchor="end" letter-spacing="-0.3">0.0</text>
<line x1="1131.8" y1="307.50" x2="1139" y2="307.50" stroke="#000" stroke-width="1.7"/>
<text x="1123.70" y="316.90" font-size="20.83" text-anchor="end" letter-spacing="-0.3">−0.5</text>
<line x1="1131.8" y1="470.40" x2="1139" y2="470.40" stroke="#000" stroke-width="1.7"/>
<text x="1123.70" y="479.80" font-size="20.83" text-anchor="end" letter-spacing="-0.3">−1.0</text>
<line x1="1131.8" y1="633.30" x2="1139" y2="633.30" stroke="#000" stroke-width="1.7"/>
<text x="1123.70" y="642.70" font-size="20.83" text-anchor="end" letter-spacing="-0.3">−1.5</text>
<line x1="1131.8" y1="796.20" x2="1139" y2="796.20" stroke="#000" stroke-width="1.7"/>
<text x="1123.70" y="805.60" font-size="20.83" text-anchor="end" letter-spacing="-0.3">−2.0</text>
<line x1="231.80" y1="1702" x2="231.80" y2="1709.2" stroke="#000" stroke-width="1.7"/>
<text x="231.80" y="1734.00" font-size="20.83" text-anchor="middle" >0.00</text>
<line x1="323.60" y1="1702" x2="323.60" y2="1709.2" stroke="#000" stroke-width="1.7"/>
<text x="323.60" y="1734.00" font-size="20.83" text-anchor="middle" >0.02</text>
<line x1="415.40" y1="1702" x2="415.40" y2="1709.2" stroke="#000" stroke-width="1.7"/>
<text x="415.40" y="1734.00" font-size="20.83" text-anchor="middle" >0.04</text>
<line x1="507.20" y1="1702" x2="507.20" y2="1709.2" stroke="#000" stroke-width="1.7"/>
<text x="507.20" y="1734.00" font-size="20.83" text-anchor="middle" >0.06</text>
<line x1="599.00" y1="1702" x2="599.00" y2="1709.2" stroke="#000" stroke-width="1.7"/>
<text x="599.00" y="1734.00" font-size="20.83" text-anchor="middle" >0.08</text>
<line x1="690.80" y1="1702" x2="690.80" y2="1709.2" stroke="#000" stroke-width="1.7"/>
<text x="690.80" y="1734.00" font-size="20.83" text-anchor="middle" >0.10</text>
<line x1="782.60" y1="1702" x2="782.60" y2="1709.2" stroke="#000" stroke-width="1.7"/>
<text x="782.60" y="1734.00" font-size="20.83" text-anchor="middle" >0.12</text>
<line x1="874.40" y1="1702" x2="874.40" y2="1709.2" stroke="#000" stroke-width="1.7"/>
<text x="874.40" y="1734.00" font-size="20.83" text-anchor="middle" >0.14</text>
<line x1="165.8" y1="1644.10" x2="173" y2="1644.10" stroke="#000" stroke-width="1.7"/>
<text x="157.70" y="1653.50" font-size="20.83" text-anchor="end" letter-spacing="-0.3">0.00</text>
<line x1="165.8" y1="1552.08" x2="173" y2="1552.08" stroke="#000" stroke-width="1.7"/>
<text x="157.70" y="1561.48" font-size="20.83" text-anchor="end" letter-spacing="-0.3">0.02</text>
<line x1="165.8" y1="1460.06" x2="173" y2="1460.06" stroke="#000" stroke-width="1.7"/>
<text x="157.70" y="1469.46" font-size="20.83" text-anchor="end" letter-spacing="-0.3">0.04</text>
<line x1="165.8" y1="1368.04" x2="173" y2="1368.04" stroke="#000" stroke-width="1.7"/>
<text x="157.70" y="1377.44" font-size="20.83" text-anchor="end" letter-spacing="-0.3">0.06</text>
<line x1="165.8" y1="1276.02" x2="173" y2="1276.02" stroke="#000" stroke-width="1.7"/>
<text x="157.70" y="1285.42" font-size="20.83" text-anchor="end" letter-spacing="-0.3">0.08</text>
<line x1="165.8" y1="1184.00" x2="173" y2="1184.00" stroke="#000" stroke-width="1.7"/>
<text x="157.70" y="1193.40" font-size="20.83" text-anchor="end" letter-spacing="-0.3">0.10</text>
<line x1="165.8" y1="1091.98" x2="173" y2="1091.98" stroke="#000" stroke-width="1.7"/>
<text x="157.70" y="1101.38" font-size="20.83" text-anchor="end" letter-spacing="-0.3">0.12</text>
<line x1="165.8" y1="999.96" x2="173" y2="999.96" stroke="#000" stroke-width="1.7"/>
<text x="157.70" y="1009.36" font-size="20.83" text-anchor="end" letter-spacing="-0.3">0.14</text>
<line x1="1279.00" y1="1702" x2="1279.00" y2="1709.2" stroke="#000" stroke-width="1.7"/>
<text x="1279.00" y="1734.00" font-size="20.83" text-anchor="middle" >0.0</text>
<line x1="1435.15" y1="1702" x2="1435.15" y2="1709.2" stroke="#000" stroke-width="1.7"/>
<text x="1435.15" y="1734.00" font-size="20.83" text-anchor="middle" >0.1</text>
<line x1="1591.30" y1="1702" x2="1591.30" y2="1709.2" stroke="#000" stroke-width="1.7"/>
<text x="1591.30" y="1734.00" font-size="20.83" text-anchor="middle" >0.2</text>
<line x1="1747.45" y1="1702" x2="1747.45" y2="1709.2" stroke="#000" stroke-width="1.7"/>
<text x="1747.45" y="1734.00" font-size="20.83" text-anchor="middle" >0.3</text>
<line x1="1903.60" y1="1702" x2="1903.60" y2="1709.2" stroke="#000" stroke-width="1.7"/>
<text x="1903.60" y="1734.00" font-size="20.83" text-anchor="middle" >0.4</text>
<line x1="1212.8" y1="1642.80" x2="1220" y2="1642.80" stroke="#000" stroke-width="1.7"/>
<text x="1204.70" y="1652.20" font-size="20.83" text-anchor="end" letter-spacing="-0.3">0.0</text>
<line x1="1212.8" y1="1486.65" x2="1220" y2="1486.65" stroke="#000" stroke-width="1.7"/>
<text x="1204.70" y="1496.05" font-size="20.83" text-anchor="end" letter-spacing="-0.3">0.1</text>
<line x1="1212.8" y1="1330.50" x2="1220" y2="1330.50" stroke="#000" stroke-width="1.7"/>
<text x="1204.70" y="1339.90" font-size="20.83" text-anchor="end" letter-spacing="-0.3">0.2</text>
<line x1="1212.8" y1="1174.35" x2="1220" y2="1174.35" stroke="#000" stroke-width="1.7"/>
<text x="1204.70" y="1183.75" font-size="20.83" text-anchor="end" letter-spacing="-0.3">0.3</text>
<line x1="1212.8" y1="1018.20" x2="1220" y2="1018.20" stroke="#000" stroke-width="1.7"/>
<text x="1204.70" y="1027.60" font-size="20.83" text-anchor="end" letter-spacing="-0.3">0.4</text>
<text x="556.50" y="34.00" font-size="25" text-anchor="middle" >Calm Regime: Cumulative Returns</text>
<text x="1604.00" y="34.00" font-size="25" text-anchor="middle" >Crisis Regime: Cumulative Returns</text>
<text x="556.50" y="922.80" font-size="25" text-anchor="middle" >Calm Regime: Persistence Diagram</text>
<text x="1604.00" y="922.80" font-size="25" text-anchor="middle" >Crisis Regime: Persistence Diagram</text>
<text x="556.50" y="872.70" font-size="20.83" text-anchor="middle" >Day</text>
<text x="1604.00" y="872.70" font-size="20.83" text-anchor="middle" >Day</text>
<text x="556.50" y="1761.60" font-size="20.83" text-anchor="middle" >Birth</text>
<text x="1604.00" y="1761.60" font-size="20.83" text-anchor="middle" >Birth</text>
<text transform="translate(30.60 432.50) rotate(-90)" font-size="20.83" text-anchor="middle">Cumulative Return</text>
<text transform="translate(1060.60 432.50) rotate(-90)" font-size="20.83" text-anchor="middle">Cumulative Return</text>
<text transform="translate(100.60 1322.00) rotate(-90)" font-size="20.83" text-anchor="middle">Death</text>
<text transform="translate(1160.80 1322.00) rotate(-90)" font-size="20.83" text-anchor="middle">Death</text>
<rect x="828.80" y="1587.00" width="101.20" height="105.00" rx="4" ry="4" fill="#fff" fill-opacity="0.8" stroke="#ccc" stroke-opacity="0.8" stroke-width="2"/>
<path d="M838.00 1604.50 L880.00 1604.50" stroke="#000" stroke-width="3.4" stroke-dasharray="11.56 5" fill="none"/>
<circle cx="858.40" cy="1638.00" r="4.65" fill="#1f77b4"/>
<circle cx="858.40" cy="1672.30" r="4.65" fill="#ff7f0e"/>
<text x="897.10" y="1613.80" font-size="20.83">∞</text>
<text x="896.80" y="1644.00" font-size="20.83"><tspan font-style="italic">H</tspan><tspan font-size="15.4" dx="-1" dy="3.4">0</tspan></text>
<text x="896.80" y="1678.00" font-size="20.83"><tspan font-style="italic">H</tspan><tspan font-size="15.4" dx="-1" dy="3.4">1</tspan></text>
<rect x="1876.20" y="1587.00" width="101.20" height="105.00" rx="4" ry="4" fill="#fff" fill-opacity="0.8" stroke="#ccc" stroke-opacity="0.8" stroke-width="2"/>
<path d="M1885.40 1604.50 L1927.40 1604.50" stroke="#000" stroke-width="3.4" stroke-dasharray="11.56 5" fill="none"/>
<circle cx="1905.80" cy="1638.00" r="4.65" fill="#1f77b4"/>
<circle cx="1905.80" cy="1672.30" r="4.65" fill="#ff7f0e"/>
<text x="1944.50" y="1613.80" font-size="20.83">∞</text>
<text x="1944.20" y="1644.00" font-size="20.83"><tspan font-style="italic">H</tspan><tspan font-size="15.4" dx="-1" dy="3.4">0</tspan></text>
<text x="1944.20" y="1678.00" font-size="20.83"><tspan font-style="italic">H</tspan><tspan font-size="15.4" dx="-1" dy="3.4">1</tspan></text>
</svg>
</body></html>
